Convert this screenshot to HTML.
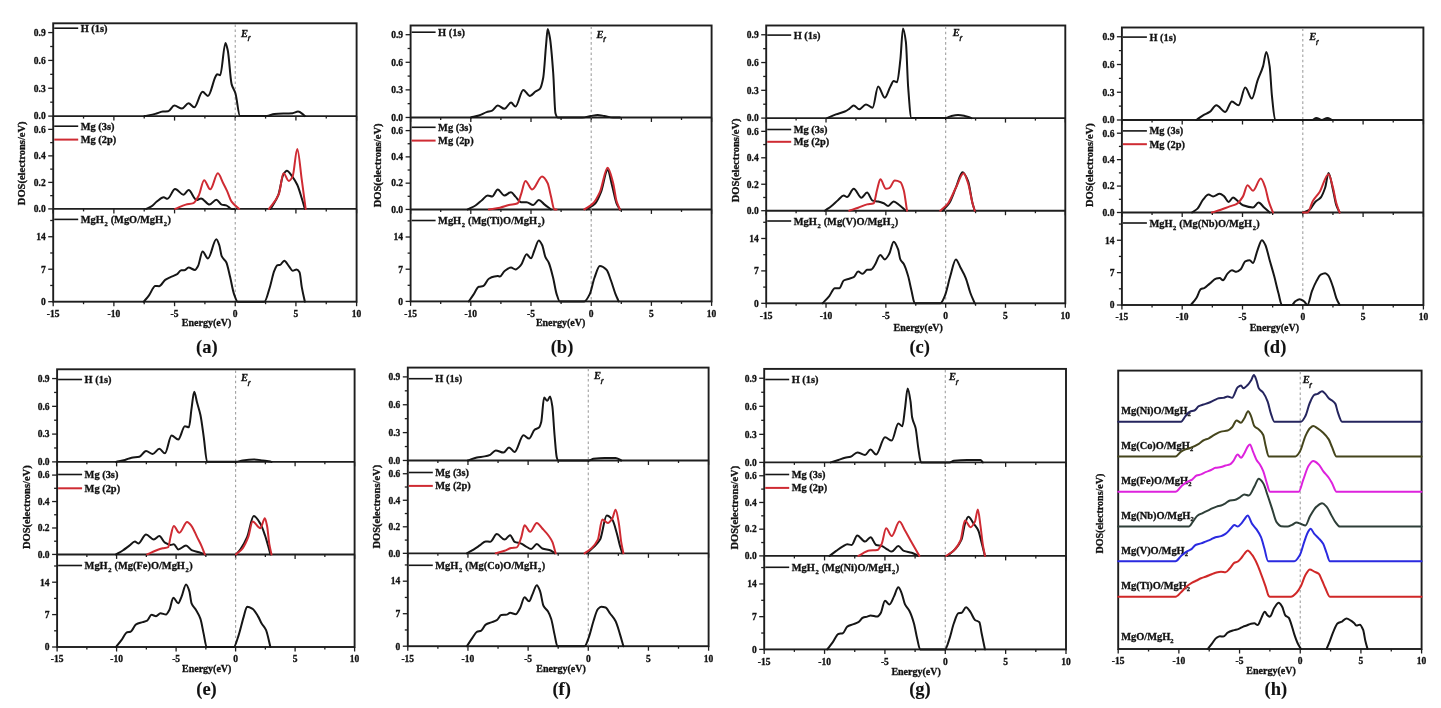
<!DOCTYPE html>
<html><head><meta charset="utf-8"><style>
html,body{margin:0;padding:0;background:#fff;}
body{width:1441px;height:708px;overflow:hidden;}
svg{display:block;font-family:"Liberation Serif", serif;will-change:transform;}
</style></head><body>
<svg width="1441" height="708" viewBox="0 0 1441 708">
<rect width="100%" height="100%" fill="#fff"/>
<g fill="#111" stroke="#111" stroke-width="0.3">
<rect x="53.2" y="23.3" width="303.4" height="278.4" fill="none" stroke="#1e1e1e" stroke-width="1.9"/>
<line x1="53.2" y1="116.1" x2="356.6" y2="116.1" stroke="#1e1e1e" stroke-width="1.9"/>
<line x1="53.2" y1="208.9" x2="356.6" y2="208.9" stroke="#1e1e1e" stroke-width="1.9"/>
<line x1="53.2" y1="116.1" x2="53.2" y2="120.6" stroke="#1e1e1e" stroke-width="1.3"/>
<line x1="83.54" y1="116.1" x2="83.54" y2="118.6" stroke="#1e1e1e" stroke-width="1.3"/>
<line x1="113.88" y1="116.1" x2="113.88" y2="120.6" stroke="#1e1e1e" stroke-width="1.3"/>
<line x1="144.22" y1="116.1" x2="144.22" y2="118.6" stroke="#1e1e1e" stroke-width="1.3"/>
<line x1="174.56" y1="116.1" x2="174.56" y2="120.6" stroke="#1e1e1e" stroke-width="1.3"/>
<line x1="204.9" y1="116.1" x2="204.9" y2="118.6" stroke="#1e1e1e" stroke-width="1.3"/>
<line x1="235.24" y1="116.1" x2="235.24" y2="120.6" stroke="#1e1e1e" stroke-width="1.3"/>
<line x1="265.58" y1="116.1" x2="265.58" y2="118.6" stroke="#1e1e1e" stroke-width="1.3"/>
<line x1="295.92" y1="116.1" x2="295.92" y2="120.6" stroke="#1e1e1e" stroke-width="1.3"/>
<line x1="326.26" y1="116.1" x2="326.26" y2="118.6" stroke="#1e1e1e" stroke-width="1.3"/>
<line x1="356.6" y1="116.1" x2="356.6" y2="120.6" stroke="#1e1e1e" stroke-width="1.3"/>
<line x1="53.2" y1="208.9" x2="53.2" y2="213.4" stroke="#1e1e1e" stroke-width="1.3"/>
<line x1="83.54" y1="208.9" x2="83.54" y2="211.4" stroke="#1e1e1e" stroke-width="1.3"/>
<line x1="113.88" y1="208.9" x2="113.88" y2="213.4" stroke="#1e1e1e" stroke-width="1.3"/>
<line x1="144.22" y1="208.9" x2="144.22" y2="211.4" stroke="#1e1e1e" stroke-width="1.3"/>
<line x1="174.56" y1="208.9" x2="174.56" y2="213.4" stroke="#1e1e1e" stroke-width="1.3"/>
<line x1="204.9" y1="208.9" x2="204.9" y2="211.4" stroke="#1e1e1e" stroke-width="1.3"/>
<line x1="235.24" y1="208.9" x2="235.24" y2="213.4" stroke="#1e1e1e" stroke-width="1.3"/>
<line x1="265.58" y1="208.9" x2="265.58" y2="211.4" stroke="#1e1e1e" stroke-width="1.3"/>
<line x1="295.92" y1="208.9" x2="295.92" y2="213.4" stroke="#1e1e1e" stroke-width="1.3"/>
<line x1="326.26" y1="208.9" x2="326.26" y2="211.4" stroke="#1e1e1e" stroke-width="1.3"/>
<line x1="356.6" y1="208.9" x2="356.6" y2="213.4" stroke="#1e1e1e" stroke-width="1.3"/>
<line x1="53.2" y1="301.7" x2="53.2" y2="306.2" stroke="#1e1e1e" stroke-width="1.3"/>
<line x1="83.54" y1="301.7" x2="83.54" y2="304.2" stroke="#1e1e1e" stroke-width="1.3"/>
<line x1="113.88" y1="301.7" x2="113.88" y2="306.2" stroke="#1e1e1e" stroke-width="1.3"/>
<line x1="144.22" y1="301.7" x2="144.22" y2="304.2" stroke="#1e1e1e" stroke-width="1.3"/>
<line x1="174.56" y1="301.7" x2="174.56" y2="306.2" stroke="#1e1e1e" stroke-width="1.3"/>
<line x1="204.9" y1="301.7" x2="204.9" y2="304.2" stroke="#1e1e1e" stroke-width="1.3"/>
<line x1="235.24" y1="301.7" x2="235.24" y2="306.2" stroke="#1e1e1e" stroke-width="1.3"/>
<line x1="265.58" y1="301.7" x2="265.58" y2="304.2" stroke="#1e1e1e" stroke-width="1.3"/>
<line x1="295.92" y1="301.7" x2="295.92" y2="306.2" stroke="#1e1e1e" stroke-width="1.3"/>
<line x1="326.26" y1="301.7" x2="326.26" y2="304.2" stroke="#1e1e1e" stroke-width="1.3"/>
<line x1="356.6" y1="301.7" x2="356.6" y2="306.2" stroke="#1e1e1e" stroke-width="1.3"/>
<text x="53.2" y="317.1" font-size="9.5" text-anchor="middle" font-weight="bold" font-style="normal">-15</text>
<text x="113.88" y="317.1" font-size="9.5" text-anchor="middle" font-weight="bold" font-style="normal">-10</text>
<text x="174.56" y="317.1" font-size="9.5" text-anchor="middle" font-weight="bold" font-style="normal">-5</text>
<text x="235.24" y="317.1" font-size="9.5" text-anchor="middle" font-weight="bold" font-style="normal">0</text>
<text x="295.92" y="317.1" font-size="9.5" text-anchor="middle" font-weight="bold" font-style="normal">5</text>
<text x="356.6" y="317.1" font-size="9.5" text-anchor="middle" font-weight="bold" font-style="normal">10</text>
<line x1="48.2" y1="116.1" x2="53.2" y2="116.1" stroke="#1e1e1e" stroke-width="1.3"/>
<text x="45.7" y="119.4" font-size="9.5" text-anchor="end" font-weight="bold" font-style="normal">0.0</text>
<line x1="48.2" y1="88.26" x2="53.2" y2="88.26" stroke="#1e1e1e" stroke-width="1.3"/>
<text x="45.7" y="91.56" font-size="9.5" text-anchor="end" font-weight="bold" font-style="normal">0.3</text>
<line x1="48.2" y1="60.42" x2="53.2" y2="60.42" stroke="#1e1e1e" stroke-width="1.3"/>
<text x="45.7" y="63.72" font-size="9.5" text-anchor="end" font-weight="bold" font-style="normal">0.6</text>
<line x1="48.2" y1="32.58" x2="53.2" y2="32.58" stroke="#1e1e1e" stroke-width="1.3"/>
<text x="45.7" y="35.88" font-size="9.5" text-anchor="end" font-weight="bold" font-style="normal">0.9</text>
<line x1="50.2" y1="102.18" x2="53.2" y2="102.18" stroke="#1e1e1e" stroke-width="1.3"/>
<line x1="50.2" y1="74.34" x2="53.2" y2="74.34" stroke="#1e1e1e" stroke-width="1.3"/>
<line x1="50.2" y1="46.5" x2="53.2" y2="46.5" stroke="#1e1e1e" stroke-width="1.3"/>
<line x1="48.2" y1="208.9" x2="53.2" y2="208.9" stroke="#1e1e1e" stroke-width="1.3"/>
<text x="45.7" y="212.2" font-size="9.5" text-anchor="end" font-weight="bold" font-style="normal">0.0</text>
<line x1="48.2" y1="182.39" x2="53.2" y2="182.39" stroke="#1e1e1e" stroke-width="1.3"/>
<text x="45.7" y="185.69" font-size="9.5" text-anchor="end" font-weight="bold" font-style="normal">0.2</text>
<line x1="48.2" y1="155.87" x2="53.2" y2="155.87" stroke="#1e1e1e" stroke-width="1.3"/>
<text x="45.7" y="159.17" font-size="9.5" text-anchor="end" font-weight="bold" font-style="normal">0.4</text>
<line x1="48.2" y1="129.36" x2="53.2" y2="129.36" stroke="#1e1e1e" stroke-width="1.3"/>
<text x="45.7" y="132.66" font-size="9.5" text-anchor="end" font-weight="bold" font-style="normal">0.6</text>
<line x1="50.2" y1="195.64" x2="53.2" y2="195.64" stroke="#1e1e1e" stroke-width="1.3"/>
<line x1="50.2" y1="169.13" x2="53.2" y2="169.13" stroke="#1e1e1e" stroke-width="1.3"/>
<line x1="50.2" y1="142.61" x2="53.2" y2="142.61" stroke="#1e1e1e" stroke-width="1.3"/>
<line x1="48.2" y1="301.7" x2="53.2" y2="301.7" stroke="#1e1e1e" stroke-width="1.3"/>
<text x="45.7" y="305" font-size="9.5" text-anchor="end" font-weight="bold" font-style="normal">0</text>
<line x1="48.2" y1="269.22" x2="53.2" y2="269.22" stroke="#1e1e1e" stroke-width="1.3"/>
<text x="45.7" y="272.52" font-size="9.5" text-anchor="end" font-weight="bold" font-style="normal">7</text>
<line x1="48.2" y1="236.74" x2="53.2" y2="236.74" stroke="#1e1e1e" stroke-width="1.3"/>
<text x="45.7" y="240.04" font-size="9.5" text-anchor="end" font-weight="bold" font-style="normal">14</text>
<line x1="50.2" y1="285.46" x2="53.2" y2="285.46" stroke="#1e1e1e" stroke-width="1.3"/>
<line x1="50.2" y1="252.98" x2="53.2" y2="252.98" stroke="#1e1e1e" stroke-width="1.3"/>
<line x1="50.2" y1="220.5" x2="53.2" y2="220.5" stroke="#1e1e1e" stroke-width="1.3"/>
<line x1="235.24" y1="24.3" x2="235.24" y2="300.7" stroke="#a0a0a0" stroke-width="1.1" stroke-dasharray="2.6,2.6"/>
<text x="240.94" y="36.8" font-size="10.5" font-weight="bold" font-style="italic">E<tspan font-size="7" dy="3.6" dx="-0.3">f</tspan></text>
<line x1="54.2" y1="28.2" x2="78.2" y2="28.2" stroke="#161616" stroke-width="1.6"/>
<text x="80.7" y="31.7" font-size="10.4" text-anchor="start" font-weight="bold" font-style="normal">H (1s)</text>
<line x1="54.2" y1="126.2" x2="78.2" y2="126.2" stroke="#161616" stroke-width="1.6"/>
<text x="80.7" y="129.7" font-size="10.4" text-anchor="start" font-weight="bold" font-style="normal">Mg (3s)</text>
<line x1="54.2" y1="139.6" x2="78.2" y2="139.6" stroke="#cf2b33" stroke-width="2.0"/>
<text x="80.7" y="143.1" font-size="10.4" text-anchor="start" font-weight="bold" font-style="normal">Mg (2p)</text>
<line x1="54.2" y1="219.4" x2="78.2" y2="219.4" stroke="#161616" stroke-width="1.6"/>
<text x="80.7" y="222.9" font-size="10.4" text-anchor="start" font-weight="bold" font-style="normal">MgH<tspan font-size="6.5" dy="3.2" dx="0.6">2</tspan><tspan dy="-3.2" dx="0.4"> (MgO/MgH</tspan><tspan font-size="6.5" dy="3.2" dx="0.6">2</tspan><tspan dy="-3.2" dx="0.4">)</tspan></text>
<text x="25.05" y="163.3" font-size="10.5" text-anchor="middle" font-weight="bold" font-style="normal" transform="rotate(-90 25.05 163.3)">DOS(electrons/eV)</text>
<text x="206.5" y="326.1" font-size="10" text-anchor="middle" font-weight="bold" font-style="normal">Energy(eV)</text>
<text x="206.8" y="352.7" font-size="18.5" text-anchor="middle" font-weight="bold" font-style="normal" stroke-width="0.1">(a)</text>
<rect x="410.6" y="25.5" width="301" height="275.9" fill="none" stroke="#1e1e1e" stroke-width="1.9"/>
<line x1="410.6" y1="117.47" x2="711.6" y2="117.47" stroke="#1e1e1e" stroke-width="1.9"/>
<line x1="410.6" y1="209.43" x2="711.6" y2="209.43" stroke="#1e1e1e" stroke-width="1.9"/>
<line x1="410.6" y1="117.47" x2="410.6" y2="121.97" stroke="#1e1e1e" stroke-width="1.3"/>
<line x1="440.7" y1="117.47" x2="440.7" y2="119.97" stroke="#1e1e1e" stroke-width="1.3"/>
<line x1="470.8" y1="117.47" x2="470.8" y2="121.97" stroke="#1e1e1e" stroke-width="1.3"/>
<line x1="500.9" y1="117.47" x2="500.9" y2="119.97" stroke="#1e1e1e" stroke-width="1.3"/>
<line x1="531" y1="117.47" x2="531" y2="121.97" stroke="#1e1e1e" stroke-width="1.3"/>
<line x1="561.1" y1="117.47" x2="561.1" y2="119.97" stroke="#1e1e1e" stroke-width="1.3"/>
<line x1="591.2" y1="117.47" x2="591.2" y2="121.97" stroke="#1e1e1e" stroke-width="1.3"/>
<line x1="621.3" y1="117.47" x2="621.3" y2="119.97" stroke="#1e1e1e" stroke-width="1.3"/>
<line x1="651.4" y1="117.47" x2="651.4" y2="121.97" stroke="#1e1e1e" stroke-width="1.3"/>
<line x1="681.5" y1="117.47" x2="681.5" y2="119.97" stroke="#1e1e1e" stroke-width="1.3"/>
<line x1="711.6" y1="117.47" x2="711.6" y2="121.97" stroke="#1e1e1e" stroke-width="1.3"/>
<line x1="410.6" y1="209.43" x2="410.6" y2="213.93" stroke="#1e1e1e" stroke-width="1.3"/>
<line x1="440.7" y1="209.43" x2="440.7" y2="211.93" stroke="#1e1e1e" stroke-width="1.3"/>
<line x1="470.8" y1="209.43" x2="470.8" y2="213.93" stroke="#1e1e1e" stroke-width="1.3"/>
<line x1="500.9" y1="209.43" x2="500.9" y2="211.93" stroke="#1e1e1e" stroke-width="1.3"/>
<line x1="531" y1="209.43" x2="531" y2="213.93" stroke="#1e1e1e" stroke-width="1.3"/>
<line x1="561.1" y1="209.43" x2="561.1" y2="211.93" stroke="#1e1e1e" stroke-width="1.3"/>
<line x1="591.2" y1="209.43" x2="591.2" y2="213.93" stroke="#1e1e1e" stroke-width="1.3"/>
<line x1="621.3" y1="209.43" x2="621.3" y2="211.93" stroke="#1e1e1e" stroke-width="1.3"/>
<line x1="651.4" y1="209.43" x2="651.4" y2="213.93" stroke="#1e1e1e" stroke-width="1.3"/>
<line x1="681.5" y1="209.43" x2="681.5" y2="211.93" stroke="#1e1e1e" stroke-width="1.3"/>
<line x1="711.6" y1="209.43" x2="711.6" y2="213.93" stroke="#1e1e1e" stroke-width="1.3"/>
<line x1="410.6" y1="301.4" x2="410.6" y2="305.9" stroke="#1e1e1e" stroke-width="1.3"/>
<line x1="440.7" y1="301.4" x2="440.7" y2="303.9" stroke="#1e1e1e" stroke-width="1.3"/>
<line x1="470.8" y1="301.4" x2="470.8" y2="305.9" stroke="#1e1e1e" stroke-width="1.3"/>
<line x1="500.9" y1="301.4" x2="500.9" y2="303.9" stroke="#1e1e1e" stroke-width="1.3"/>
<line x1="531" y1="301.4" x2="531" y2="305.9" stroke="#1e1e1e" stroke-width="1.3"/>
<line x1="561.1" y1="301.4" x2="561.1" y2="303.9" stroke="#1e1e1e" stroke-width="1.3"/>
<line x1="591.2" y1="301.4" x2="591.2" y2="305.9" stroke="#1e1e1e" stroke-width="1.3"/>
<line x1="621.3" y1="301.4" x2="621.3" y2="303.9" stroke="#1e1e1e" stroke-width="1.3"/>
<line x1="651.4" y1="301.4" x2="651.4" y2="305.9" stroke="#1e1e1e" stroke-width="1.3"/>
<line x1="681.5" y1="301.4" x2="681.5" y2="303.9" stroke="#1e1e1e" stroke-width="1.3"/>
<line x1="711.6" y1="301.4" x2="711.6" y2="305.9" stroke="#1e1e1e" stroke-width="1.3"/>
<text x="410.6" y="316.8" font-size="9.5" text-anchor="middle" font-weight="bold" font-style="normal">-15</text>
<text x="470.8" y="316.8" font-size="9.5" text-anchor="middle" font-weight="bold" font-style="normal">-10</text>
<text x="531" y="316.8" font-size="9.5" text-anchor="middle" font-weight="bold" font-style="normal">-5</text>
<text x="591.2" y="316.8" font-size="9.5" text-anchor="middle" font-weight="bold" font-style="normal">0</text>
<text x="651.4" y="316.8" font-size="9.5" text-anchor="middle" font-weight="bold" font-style="normal">5</text>
<text x="711.6" y="316.8" font-size="9.5" text-anchor="middle" font-weight="bold" font-style="normal">10</text>
<line x1="405.6" y1="117.47" x2="410.6" y2="117.47" stroke="#1e1e1e" stroke-width="1.3"/>
<text x="403.1" y="120.77" font-size="9.5" text-anchor="end" font-weight="bold" font-style="normal">0.0</text>
<line x1="405.6" y1="89.88" x2="410.6" y2="89.88" stroke="#1e1e1e" stroke-width="1.3"/>
<text x="403.1" y="93.18" font-size="9.5" text-anchor="end" font-weight="bold" font-style="normal">0.3</text>
<line x1="405.6" y1="62.29" x2="410.6" y2="62.29" stroke="#1e1e1e" stroke-width="1.3"/>
<text x="403.1" y="65.59" font-size="9.5" text-anchor="end" font-weight="bold" font-style="normal">0.6</text>
<line x1="405.6" y1="34.7" x2="410.6" y2="34.7" stroke="#1e1e1e" stroke-width="1.3"/>
<text x="403.1" y="38" font-size="9.5" text-anchor="end" font-weight="bold" font-style="normal">0.9</text>
<line x1="407.6" y1="103.67" x2="410.6" y2="103.67" stroke="#1e1e1e" stroke-width="1.3"/>
<line x1="407.6" y1="76.08" x2="410.6" y2="76.08" stroke="#1e1e1e" stroke-width="1.3"/>
<line x1="407.6" y1="48.49" x2="410.6" y2="48.49" stroke="#1e1e1e" stroke-width="1.3"/>
<line x1="405.6" y1="209.43" x2="410.6" y2="209.43" stroke="#1e1e1e" stroke-width="1.3"/>
<text x="403.1" y="212.73" font-size="9.5" text-anchor="end" font-weight="bold" font-style="normal">0.0</text>
<line x1="405.6" y1="183.16" x2="410.6" y2="183.16" stroke="#1e1e1e" stroke-width="1.3"/>
<text x="403.1" y="186.46" font-size="9.5" text-anchor="end" font-weight="bold" font-style="normal">0.2</text>
<line x1="405.6" y1="156.88" x2="410.6" y2="156.88" stroke="#1e1e1e" stroke-width="1.3"/>
<text x="403.1" y="160.18" font-size="9.5" text-anchor="end" font-weight="bold" font-style="normal">0.4</text>
<line x1="405.6" y1="130.6" x2="410.6" y2="130.6" stroke="#1e1e1e" stroke-width="1.3"/>
<text x="403.1" y="133.9" font-size="9.5" text-anchor="end" font-weight="bold" font-style="normal">0.6</text>
<line x1="407.6" y1="196.3" x2="410.6" y2="196.3" stroke="#1e1e1e" stroke-width="1.3"/>
<line x1="407.6" y1="170.02" x2="410.6" y2="170.02" stroke="#1e1e1e" stroke-width="1.3"/>
<line x1="407.6" y1="143.74" x2="410.6" y2="143.74" stroke="#1e1e1e" stroke-width="1.3"/>
<line x1="405.6" y1="301.4" x2="410.6" y2="301.4" stroke="#1e1e1e" stroke-width="1.3"/>
<text x="403.1" y="304.7" font-size="9.5" text-anchor="end" font-weight="bold" font-style="normal">0</text>
<line x1="405.6" y1="269.21" x2="410.6" y2="269.21" stroke="#1e1e1e" stroke-width="1.3"/>
<text x="403.1" y="272.51" font-size="9.5" text-anchor="end" font-weight="bold" font-style="normal">7</text>
<line x1="405.6" y1="237.02" x2="410.6" y2="237.02" stroke="#1e1e1e" stroke-width="1.3"/>
<text x="403.1" y="240.32" font-size="9.5" text-anchor="end" font-weight="bold" font-style="normal">14</text>
<line x1="407.6" y1="285.31" x2="410.6" y2="285.31" stroke="#1e1e1e" stroke-width="1.3"/>
<line x1="407.6" y1="253.12" x2="410.6" y2="253.12" stroke="#1e1e1e" stroke-width="1.3"/>
<line x1="407.6" y1="220.93" x2="410.6" y2="220.93" stroke="#1e1e1e" stroke-width="1.3"/>
<line x1="591.2" y1="26.5" x2="591.2" y2="300.4" stroke="#a0a0a0" stroke-width="1.1" stroke-dasharray="2.6,2.6"/>
<text x="596.5" y="37.8" font-size="10.5" font-weight="bold" font-style="italic">E<tspan font-size="7" dy="3.6" dx="-0.3">f</tspan></text>
<line x1="411.6" y1="32.2" x2="435.6" y2="32.2" stroke="#161616" stroke-width="1.6"/>
<text x="438.1" y="35.7" font-size="10.4" text-anchor="start" font-weight="bold" font-style="normal">H (1s)</text>
<line x1="411.6" y1="127.3" x2="435.6" y2="127.3" stroke="#161616" stroke-width="1.6"/>
<text x="438.1" y="130.8" font-size="10.4" text-anchor="start" font-weight="bold" font-style="normal">Mg (3s)</text>
<line x1="411.6" y1="140.6" x2="435.6" y2="140.6" stroke="#cf2b33" stroke-width="2.0"/>
<text x="438.1" y="144.1" font-size="10.4" text-anchor="start" font-weight="bold" font-style="normal">Mg (2p)</text>
<line x1="411.6" y1="220.5" x2="435.6" y2="220.5" stroke="#161616" stroke-width="1.6"/>
<text x="438.1" y="224" font-size="10.4" text-anchor="start" font-weight="bold" font-style="normal">MgH<tspan font-size="6.5" dy="3.2" dx="0.6">2</tspan><tspan dy="-3.2" dx="0.4"> (Mg(Ti)O/MgH</tspan><tspan font-size="6.5" dy="3.2" dx="0.6">2</tspan><tspan dy="-3.2" dx="0.4">)</tspan></text>
<text x="380.7" y="165.4" font-size="10.5" text-anchor="middle" font-weight="bold" font-style="normal" transform="rotate(-90 380.7 165.4)">DOS(electrons/eV)</text>
<text x="560.6" y="326" font-size="10" text-anchor="middle" font-weight="bold" font-style="normal">Energy(eV)</text>
<text x="562" y="352.6" font-size="18.5" text-anchor="middle" font-weight="bold" font-style="normal" stroke-width="0.1">(b)</text>
<rect x="766.2" y="25.5" width="299.1" height="277.8" fill="none" stroke="#1e1e1e" stroke-width="1.9"/>
<line x1="766.2" y1="118.1" x2="1065.3" y2="118.1" stroke="#1e1e1e" stroke-width="1.9"/>
<line x1="766.2" y1="210.7" x2="1065.3" y2="210.7" stroke="#1e1e1e" stroke-width="1.9"/>
<line x1="766.2" y1="118.1" x2="766.2" y2="122.6" stroke="#1e1e1e" stroke-width="1.3"/>
<line x1="796.11" y1="118.1" x2="796.11" y2="120.6" stroke="#1e1e1e" stroke-width="1.3"/>
<line x1="826.02" y1="118.1" x2="826.02" y2="122.6" stroke="#1e1e1e" stroke-width="1.3"/>
<line x1="855.93" y1="118.1" x2="855.93" y2="120.6" stroke="#1e1e1e" stroke-width="1.3"/>
<line x1="885.84" y1="118.1" x2="885.84" y2="122.6" stroke="#1e1e1e" stroke-width="1.3"/>
<line x1="915.75" y1="118.1" x2="915.75" y2="120.6" stroke="#1e1e1e" stroke-width="1.3"/>
<line x1="945.66" y1="118.1" x2="945.66" y2="122.6" stroke="#1e1e1e" stroke-width="1.3"/>
<line x1="975.57" y1="118.1" x2="975.57" y2="120.6" stroke="#1e1e1e" stroke-width="1.3"/>
<line x1="1005.48" y1="118.1" x2="1005.48" y2="122.6" stroke="#1e1e1e" stroke-width="1.3"/>
<line x1="1035.39" y1="118.1" x2="1035.39" y2="120.6" stroke="#1e1e1e" stroke-width="1.3"/>
<line x1="1065.3" y1="118.1" x2="1065.3" y2="122.6" stroke="#1e1e1e" stroke-width="1.3"/>
<line x1="766.2" y1="210.7" x2="766.2" y2="215.2" stroke="#1e1e1e" stroke-width="1.3"/>
<line x1="796.11" y1="210.7" x2="796.11" y2="213.2" stroke="#1e1e1e" stroke-width="1.3"/>
<line x1="826.02" y1="210.7" x2="826.02" y2="215.2" stroke="#1e1e1e" stroke-width="1.3"/>
<line x1="855.93" y1="210.7" x2="855.93" y2="213.2" stroke="#1e1e1e" stroke-width="1.3"/>
<line x1="885.84" y1="210.7" x2="885.84" y2="215.2" stroke="#1e1e1e" stroke-width="1.3"/>
<line x1="915.75" y1="210.7" x2="915.75" y2="213.2" stroke="#1e1e1e" stroke-width="1.3"/>
<line x1="945.66" y1="210.7" x2="945.66" y2="215.2" stroke="#1e1e1e" stroke-width="1.3"/>
<line x1="975.57" y1="210.7" x2="975.57" y2="213.2" stroke="#1e1e1e" stroke-width="1.3"/>
<line x1="1005.48" y1="210.7" x2="1005.48" y2="215.2" stroke="#1e1e1e" stroke-width="1.3"/>
<line x1="1035.39" y1="210.7" x2="1035.39" y2="213.2" stroke="#1e1e1e" stroke-width="1.3"/>
<line x1="1065.3" y1="210.7" x2="1065.3" y2="215.2" stroke="#1e1e1e" stroke-width="1.3"/>
<line x1="766.2" y1="303.3" x2="766.2" y2="307.8" stroke="#1e1e1e" stroke-width="1.3"/>
<line x1="796.11" y1="303.3" x2="796.11" y2="305.8" stroke="#1e1e1e" stroke-width="1.3"/>
<line x1="826.02" y1="303.3" x2="826.02" y2="307.8" stroke="#1e1e1e" stroke-width="1.3"/>
<line x1="855.93" y1="303.3" x2="855.93" y2="305.8" stroke="#1e1e1e" stroke-width="1.3"/>
<line x1="885.84" y1="303.3" x2="885.84" y2="307.8" stroke="#1e1e1e" stroke-width="1.3"/>
<line x1="915.75" y1="303.3" x2="915.75" y2="305.8" stroke="#1e1e1e" stroke-width="1.3"/>
<line x1="945.66" y1="303.3" x2="945.66" y2="307.8" stroke="#1e1e1e" stroke-width="1.3"/>
<line x1="975.57" y1="303.3" x2="975.57" y2="305.8" stroke="#1e1e1e" stroke-width="1.3"/>
<line x1="1005.48" y1="303.3" x2="1005.48" y2="307.8" stroke="#1e1e1e" stroke-width="1.3"/>
<line x1="1035.39" y1="303.3" x2="1035.39" y2="305.8" stroke="#1e1e1e" stroke-width="1.3"/>
<line x1="1065.3" y1="303.3" x2="1065.3" y2="307.8" stroke="#1e1e1e" stroke-width="1.3"/>
<text x="766.2" y="318.7" font-size="9.5" text-anchor="middle" font-weight="bold" font-style="normal">-15</text>
<text x="826.02" y="318.7" font-size="9.5" text-anchor="middle" font-weight="bold" font-style="normal">-10</text>
<text x="885.84" y="318.7" font-size="9.5" text-anchor="middle" font-weight="bold" font-style="normal">-5</text>
<text x="945.66" y="318.7" font-size="9.5" text-anchor="middle" font-weight="bold" font-style="normal">0</text>
<text x="1005.48" y="318.7" font-size="9.5" text-anchor="middle" font-weight="bold" font-style="normal">5</text>
<text x="1065.3" y="318.7" font-size="9.5" text-anchor="middle" font-weight="bold" font-style="normal">10</text>
<line x1="761.2" y1="118.1" x2="766.2" y2="118.1" stroke="#1e1e1e" stroke-width="1.3"/>
<text x="758.7" y="121.4" font-size="9.5" text-anchor="end" font-weight="bold" font-style="normal">0.0</text>
<line x1="761.2" y1="90.32" x2="766.2" y2="90.32" stroke="#1e1e1e" stroke-width="1.3"/>
<text x="758.7" y="93.62" font-size="9.5" text-anchor="end" font-weight="bold" font-style="normal">0.3</text>
<line x1="761.2" y1="62.54" x2="766.2" y2="62.54" stroke="#1e1e1e" stroke-width="1.3"/>
<text x="758.7" y="65.84" font-size="9.5" text-anchor="end" font-weight="bold" font-style="normal">0.6</text>
<line x1="761.2" y1="34.76" x2="766.2" y2="34.76" stroke="#1e1e1e" stroke-width="1.3"/>
<text x="758.7" y="38.06" font-size="9.5" text-anchor="end" font-weight="bold" font-style="normal">0.9</text>
<line x1="763.2" y1="104.21" x2="766.2" y2="104.21" stroke="#1e1e1e" stroke-width="1.3"/>
<line x1="763.2" y1="76.43" x2="766.2" y2="76.43" stroke="#1e1e1e" stroke-width="1.3"/>
<line x1="763.2" y1="48.65" x2="766.2" y2="48.65" stroke="#1e1e1e" stroke-width="1.3"/>
<line x1="761.2" y1="210.7" x2="766.2" y2="210.7" stroke="#1e1e1e" stroke-width="1.3"/>
<text x="758.7" y="214" font-size="9.5" text-anchor="end" font-weight="bold" font-style="normal">0.0</text>
<line x1="761.2" y1="184.24" x2="766.2" y2="184.24" stroke="#1e1e1e" stroke-width="1.3"/>
<text x="758.7" y="187.54" font-size="9.5" text-anchor="end" font-weight="bold" font-style="normal">0.2</text>
<line x1="761.2" y1="157.79" x2="766.2" y2="157.79" stroke="#1e1e1e" stroke-width="1.3"/>
<text x="758.7" y="161.09" font-size="9.5" text-anchor="end" font-weight="bold" font-style="normal">0.4</text>
<line x1="761.2" y1="131.33" x2="766.2" y2="131.33" stroke="#1e1e1e" stroke-width="1.3"/>
<text x="758.7" y="134.63" font-size="9.5" text-anchor="end" font-weight="bold" font-style="normal">0.6</text>
<line x1="763.2" y1="197.47" x2="766.2" y2="197.47" stroke="#1e1e1e" stroke-width="1.3"/>
<line x1="763.2" y1="171.01" x2="766.2" y2="171.01" stroke="#1e1e1e" stroke-width="1.3"/>
<line x1="763.2" y1="144.56" x2="766.2" y2="144.56" stroke="#1e1e1e" stroke-width="1.3"/>
<line x1="761.2" y1="303.3" x2="766.2" y2="303.3" stroke="#1e1e1e" stroke-width="1.3"/>
<text x="758.7" y="306.6" font-size="9.5" text-anchor="end" font-weight="bold" font-style="normal">0</text>
<line x1="761.2" y1="270.89" x2="766.2" y2="270.89" stroke="#1e1e1e" stroke-width="1.3"/>
<text x="758.7" y="274.19" font-size="9.5" text-anchor="end" font-weight="bold" font-style="normal">7</text>
<line x1="761.2" y1="238.48" x2="766.2" y2="238.48" stroke="#1e1e1e" stroke-width="1.3"/>
<text x="758.7" y="241.78" font-size="9.5" text-anchor="end" font-weight="bold" font-style="normal">14</text>
<line x1="763.2" y1="287.1" x2="766.2" y2="287.1" stroke="#1e1e1e" stroke-width="1.3"/>
<line x1="763.2" y1="254.69" x2="766.2" y2="254.69" stroke="#1e1e1e" stroke-width="1.3"/>
<line x1="763.2" y1="222.28" x2="766.2" y2="222.28" stroke="#1e1e1e" stroke-width="1.3"/>
<line x1="945.66" y1="26.5" x2="945.66" y2="302.3" stroke="#a0a0a0" stroke-width="1.1" stroke-dasharray="2.6,2.6"/>
<text x="952.86" y="36.3" font-size="10.5" font-weight="bold" font-style="italic">E<tspan font-size="7" dy="3.6" dx="-0.3">f</tspan></text>
<line x1="767.2" y1="35.1" x2="791.2" y2="35.1" stroke="#161616" stroke-width="1.6"/>
<text x="793.7" y="38.6" font-size="10.4" text-anchor="start" font-weight="bold" font-style="normal">H (1s)</text>
<line x1="767.2" y1="129.5" x2="791.2" y2="129.5" stroke="#161616" stroke-width="1.6"/>
<text x="793.7" y="133" font-size="10.4" text-anchor="start" font-weight="bold" font-style="normal">Mg (3s)</text>
<line x1="767.2" y1="141.8" x2="791.2" y2="141.8" stroke="#cf2b33" stroke-width="2.0"/>
<text x="793.7" y="145.3" font-size="10.4" text-anchor="start" font-weight="bold" font-style="normal">Mg (2p)</text>
<line x1="767.2" y1="221" x2="791.2" y2="221" stroke="#161616" stroke-width="1.6"/>
<text x="793.7" y="224.5" font-size="10.4" text-anchor="start" font-weight="bold" font-style="normal">MgH<tspan font-size="6.5" dy="3.2" dx="0.6">2</tspan><tspan dy="-3.2" dx="0.4"> (Mg(V)O/MgH</tspan><tspan font-size="6.5" dy="3.2" dx="0.6">2</tspan><tspan dy="-3.2" dx="0.4">)</tspan></text>
<text x="738.8" y="160.3" font-size="10.5" text-anchor="middle" font-weight="bold" font-style="normal" transform="rotate(-90 738.8 160.3)">DOS(electrons/eV)</text>
<text x="918.2" y="330.7" font-size="10" text-anchor="middle" font-weight="bold" font-style="normal">Energy(eV)</text>
<text x="919.7" y="352.8" font-size="18.5" text-anchor="middle" font-weight="bold" font-style="normal" stroke-width="0.1">(c)</text>
<rect x="1121.9" y="27.5" width="301.5" height="277.5" fill="none" stroke="#1e1e1e" stroke-width="1.9"/>
<line x1="1121.9" y1="120" x2="1423.4" y2="120" stroke="#1e1e1e" stroke-width="1.9"/>
<line x1="1121.9" y1="212.5" x2="1423.4" y2="212.5" stroke="#1e1e1e" stroke-width="1.9"/>
<line x1="1121.9" y1="120" x2="1121.9" y2="124.5" stroke="#1e1e1e" stroke-width="1.3"/>
<line x1="1152.05" y1="120" x2="1152.05" y2="122.5" stroke="#1e1e1e" stroke-width="1.3"/>
<line x1="1182.2" y1="120" x2="1182.2" y2="124.5" stroke="#1e1e1e" stroke-width="1.3"/>
<line x1="1212.35" y1="120" x2="1212.35" y2="122.5" stroke="#1e1e1e" stroke-width="1.3"/>
<line x1="1242.5" y1="120" x2="1242.5" y2="124.5" stroke="#1e1e1e" stroke-width="1.3"/>
<line x1="1272.65" y1="120" x2="1272.65" y2="122.5" stroke="#1e1e1e" stroke-width="1.3"/>
<line x1="1302.8" y1="120" x2="1302.8" y2="124.5" stroke="#1e1e1e" stroke-width="1.3"/>
<line x1="1332.95" y1="120" x2="1332.95" y2="122.5" stroke="#1e1e1e" stroke-width="1.3"/>
<line x1="1363.1" y1="120" x2="1363.1" y2="124.5" stroke="#1e1e1e" stroke-width="1.3"/>
<line x1="1393.25" y1="120" x2="1393.25" y2="122.5" stroke="#1e1e1e" stroke-width="1.3"/>
<line x1="1423.4" y1="120" x2="1423.4" y2="124.5" stroke="#1e1e1e" stroke-width="1.3"/>
<line x1="1121.9" y1="212.5" x2="1121.9" y2="217" stroke="#1e1e1e" stroke-width="1.3"/>
<line x1="1152.05" y1="212.5" x2="1152.05" y2="215" stroke="#1e1e1e" stroke-width="1.3"/>
<line x1="1182.2" y1="212.5" x2="1182.2" y2="217" stroke="#1e1e1e" stroke-width="1.3"/>
<line x1="1212.35" y1="212.5" x2="1212.35" y2="215" stroke="#1e1e1e" stroke-width="1.3"/>
<line x1="1242.5" y1="212.5" x2="1242.5" y2="217" stroke="#1e1e1e" stroke-width="1.3"/>
<line x1="1272.65" y1="212.5" x2="1272.65" y2="215" stroke="#1e1e1e" stroke-width="1.3"/>
<line x1="1302.8" y1="212.5" x2="1302.8" y2="217" stroke="#1e1e1e" stroke-width="1.3"/>
<line x1="1332.95" y1="212.5" x2="1332.95" y2="215" stroke="#1e1e1e" stroke-width="1.3"/>
<line x1="1363.1" y1="212.5" x2="1363.1" y2="217" stroke="#1e1e1e" stroke-width="1.3"/>
<line x1="1393.25" y1="212.5" x2="1393.25" y2="215" stroke="#1e1e1e" stroke-width="1.3"/>
<line x1="1423.4" y1="212.5" x2="1423.4" y2="217" stroke="#1e1e1e" stroke-width="1.3"/>
<line x1="1121.9" y1="305" x2="1121.9" y2="309.5" stroke="#1e1e1e" stroke-width="1.3"/>
<line x1="1152.05" y1="305" x2="1152.05" y2="307.5" stroke="#1e1e1e" stroke-width="1.3"/>
<line x1="1182.2" y1="305" x2="1182.2" y2="309.5" stroke="#1e1e1e" stroke-width="1.3"/>
<line x1="1212.35" y1="305" x2="1212.35" y2="307.5" stroke="#1e1e1e" stroke-width="1.3"/>
<line x1="1242.5" y1="305" x2="1242.5" y2="309.5" stroke="#1e1e1e" stroke-width="1.3"/>
<line x1="1272.65" y1="305" x2="1272.65" y2="307.5" stroke="#1e1e1e" stroke-width="1.3"/>
<line x1="1302.8" y1="305" x2="1302.8" y2="309.5" stroke="#1e1e1e" stroke-width="1.3"/>
<line x1="1332.95" y1="305" x2="1332.95" y2="307.5" stroke="#1e1e1e" stroke-width="1.3"/>
<line x1="1363.1" y1="305" x2="1363.1" y2="309.5" stroke="#1e1e1e" stroke-width="1.3"/>
<line x1="1393.25" y1="305" x2="1393.25" y2="307.5" stroke="#1e1e1e" stroke-width="1.3"/>
<line x1="1423.4" y1="305" x2="1423.4" y2="309.5" stroke="#1e1e1e" stroke-width="1.3"/>
<text x="1121.9" y="320.4" font-size="9.5" text-anchor="middle" font-weight="bold" font-style="normal">-15</text>
<text x="1182.2" y="320.4" font-size="9.5" text-anchor="middle" font-weight="bold" font-style="normal">-10</text>
<text x="1242.5" y="320.4" font-size="9.5" text-anchor="middle" font-weight="bold" font-style="normal">-5</text>
<text x="1302.8" y="320.4" font-size="9.5" text-anchor="middle" font-weight="bold" font-style="normal">0</text>
<text x="1363.1" y="320.4" font-size="9.5" text-anchor="middle" font-weight="bold" font-style="normal">5</text>
<text x="1423.4" y="320.4" font-size="9.5" text-anchor="middle" font-weight="bold" font-style="normal">10</text>
<line x1="1116.9" y1="120" x2="1121.9" y2="120" stroke="#1e1e1e" stroke-width="1.3"/>
<text x="1114.4" y="123.3" font-size="9.5" text-anchor="end" font-weight="bold" font-style="normal">0.0</text>
<line x1="1116.9" y1="92.25" x2="1121.9" y2="92.25" stroke="#1e1e1e" stroke-width="1.3"/>
<text x="1114.4" y="95.55" font-size="9.5" text-anchor="end" font-weight="bold" font-style="normal">0.3</text>
<line x1="1116.9" y1="64.5" x2="1121.9" y2="64.5" stroke="#1e1e1e" stroke-width="1.3"/>
<text x="1114.4" y="67.8" font-size="9.5" text-anchor="end" font-weight="bold" font-style="normal">0.6</text>
<line x1="1116.9" y1="36.75" x2="1121.9" y2="36.75" stroke="#1e1e1e" stroke-width="1.3"/>
<text x="1114.4" y="40.05" font-size="9.5" text-anchor="end" font-weight="bold" font-style="normal">0.9</text>
<line x1="1118.9" y1="106.12" x2="1121.9" y2="106.12" stroke="#1e1e1e" stroke-width="1.3"/>
<line x1="1118.9" y1="78.38" x2="1121.9" y2="78.38" stroke="#1e1e1e" stroke-width="1.3"/>
<line x1="1118.9" y1="50.62" x2="1121.9" y2="50.62" stroke="#1e1e1e" stroke-width="1.3"/>
<line x1="1116.9" y1="212.5" x2="1121.9" y2="212.5" stroke="#1e1e1e" stroke-width="1.3"/>
<text x="1114.4" y="215.8" font-size="9.5" text-anchor="end" font-weight="bold" font-style="normal">0.0</text>
<line x1="1116.9" y1="186.07" x2="1121.9" y2="186.07" stroke="#1e1e1e" stroke-width="1.3"/>
<text x="1114.4" y="189.37" font-size="9.5" text-anchor="end" font-weight="bold" font-style="normal">0.2</text>
<line x1="1116.9" y1="159.64" x2="1121.9" y2="159.64" stroke="#1e1e1e" stroke-width="1.3"/>
<text x="1114.4" y="162.94" font-size="9.5" text-anchor="end" font-weight="bold" font-style="normal">0.4</text>
<line x1="1116.9" y1="133.21" x2="1121.9" y2="133.21" stroke="#1e1e1e" stroke-width="1.3"/>
<text x="1114.4" y="136.51" font-size="9.5" text-anchor="end" font-weight="bold" font-style="normal">0.6</text>
<line x1="1118.9" y1="199.29" x2="1121.9" y2="199.29" stroke="#1e1e1e" stroke-width="1.3"/>
<line x1="1118.9" y1="172.86" x2="1121.9" y2="172.86" stroke="#1e1e1e" stroke-width="1.3"/>
<line x1="1118.9" y1="146.43" x2="1121.9" y2="146.43" stroke="#1e1e1e" stroke-width="1.3"/>
<line x1="1116.9" y1="305" x2="1121.9" y2="305" stroke="#1e1e1e" stroke-width="1.3"/>
<text x="1114.4" y="308.3" font-size="9.5" text-anchor="end" font-weight="bold" font-style="normal">0</text>
<line x1="1116.9" y1="272.62" x2="1121.9" y2="272.62" stroke="#1e1e1e" stroke-width="1.3"/>
<text x="1114.4" y="275.93" font-size="9.5" text-anchor="end" font-weight="bold" font-style="normal">7</text>
<line x1="1116.9" y1="240.25" x2="1121.9" y2="240.25" stroke="#1e1e1e" stroke-width="1.3"/>
<text x="1114.4" y="243.55" font-size="9.5" text-anchor="end" font-weight="bold" font-style="normal">14</text>
<line x1="1118.9" y1="288.81" x2="1121.9" y2="288.81" stroke="#1e1e1e" stroke-width="1.3"/>
<line x1="1118.9" y1="256.44" x2="1121.9" y2="256.44" stroke="#1e1e1e" stroke-width="1.3"/>
<line x1="1118.9" y1="224.06" x2="1121.9" y2="224.06" stroke="#1e1e1e" stroke-width="1.3"/>
<line x1="1302.8" y1="28.5" x2="1302.8" y2="304" stroke="#a0a0a0" stroke-width="1.1" stroke-dasharray="2.6,2.6"/>
<text x="1309.2" y="40.4" font-size="10.5" font-weight="bold" font-style="italic">E<tspan font-size="7" dy="3.6" dx="-0.3">f</tspan></text>
<line x1="1122.9" y1="37.1" x2="1146.9" y2="37.1" stroke="#161616" stroke-width="1.6"/>
<text x="1149.4" y="40.6" font-size="10.4" text-anchor="start" font-weight="bold" font-style="normal">H (1s)</text>
<line x1="1122.9" y1="130.9" x2="1146.9" y2="130.9" stroke="#161616" stroke-width="1.6"/>
<text x="1149.4" y="134.4" font-size="10.4" text-anchor="start" font-weight="bold" font-style="normal">Mg (3s)</text>
<line x1="1122.9" y1="144.2" x2="1146.9" y2="144.2" stroke="#cf2b33" stroke-width="2.0"/>
<text x="1149.4" y="147.7" font-size="10.4" text-anchor="start" font-weight="bold" font-style="normal">Mg (2p)</text>
<line x1="1122.9" y1="223" x2="1146.9" y2="223" stroke="#161616" stroke-width="1.6"/>
<text x="1149.4" y="226.5" font-size="10.4" text-anchor="start" font-weight="bold" font-style="normal">MgH<tspan font-size="6.5" dy="3.2" dx="0.6">2</tspan><tspan dy="-3.2" dx="0.4"> (Mg(Nb)O/MgH</tspan><tspan font-size="6.5" dy="3.2" dx="0.6">2</tspan><tspan dy="-3.2" dx="0.4">)</tspan></text>
<text x="1092.6" y="165.2" font-size="10.5" text-anchor="middle" font-weight="bold" font-style="normal" transform="rotate(-90 1092.6 165.2)">DOS(electrons/eV)</text>
<text x="1274.4" y="331.2" font-size="10" text-anchor="middle" font-weight="bold" font-style="normal">Energy(eV)</text>
<text x="1275" y="352.6" font-size="18.5" text-anchor="middle" font-weight="bold" font-style="normal" stroke-width="0.1">(d)</text>
<rect x="57.1" y="369.3" width="297.5" height="277.7" fill="none" stroke="#1e1e1e" stroke-width="1.9"/>
<line x1="57.1" y1="461.87" x2="354.6" y2="461.87" stroke="#1e1e1e" stroke-width="1.9"/>
<line x1="57.1" y1="554.43" x2="354.6" y2="554.43" stroke="#1e1e1e" stroke-width="1.9"/>
<line x1="57.1" y1="461.87" x2="57.1" y2="466.37" stroke="#1e1e1e" stroke-width="1.3"/>
<line x1="86.85" y1="461.87" x2="86.85" y2="464.37" stroke="#1e1e1e" stroke-width="1.3"/>
<line x1="116.6" y1="461.87" x2="116.6" y2="466.37" stroke="#1e1e1e" stroke-width="1.3"/>
<line x1="146.35" y1="461.87" x2="146.35" y2="464.37" stroke="#1e1e1e" stroke-width="1.3"/>
<line x1="176.1" y1="461.87" x2="176.1" y2="466.37" stroke="#1e1e1e" stroke-width="1.3"/>
<line x1="205.85" y1="461.87" x2="205.85" y2="464.37" stroke="#1e1e1e" stroke-width="1.3"/>
<line x1="235.6" y1="461.87" x2="235.6" y2="466.37" stroke="#1e1e1e" stroke-width="1.3"/>
<line x1="265.35" y1="461.87" x2="265.35" y2="464.37" stroke="#1e1e1e" stroke-width="1.3"/>
<line x1="295.1" y1="461.87" x2="295.1" y2="466.37" stroke="#1e1e1e" stroke-width="1.3"/>
<line x1="324.85" y1="461.87" x2="324.85" y2="464.37" stroke="#1e1e1e" stroke-width="1.3"/>
<line x1="354.6" y1="461.87" x2="354.6" y2="466.37" stroke="#1e1e1e" stroke-width="1.3"/>
<line x1="57.1" y1="554.43" x2="57.1" y2="558.93" stroke="#1e1e1e" stroke-width="1.3"/>
<line x1="86.85" y1="554.43" x2="86.85" y2="556.93" stroke="#1e1e1e" stroke-width="1.3"/>
<line x1="116.6" y1="554.43" x2="116.6" y2="558.93" stroke="#1e1e1e" stroke-width="1.3"/>
<line x1="146.35" y1="554.43" x2="146.35" y2="556.93" stroke="#1e1e1e" stroke-width="1.3"/>
<line x1="176.1" y1="554.43" x2="176.1" y2="558.93" stroke="#1e1e1e" stroke-width="1.3"/>
<line x1="205.85" y1="554.43" x2="205.85" y2="556.93" stroke="#1e1e1e" stroke-width="1.3"/>
<line x1="235.6" y1="554.43" x2="235.6" y2="558.93" stroke="#1e1e1e" stroke-width="1.3"/>
<line x1="265.35" y1="554.43" x2="265.35" y2="556.93" stroke="#1e1e1e" stroke-width="1.3"/>
<line x1="295.1" y1="554.43" x2="295.1" y2="558.93" stroke="#1e1e1e" stroke-width="1.3"/>
<line x1="324.85" y1="554.43" x2="324.85" y2="556.93" stroke="#1e1e1e" stroke-width="1.3"/>
<line x1="354.6" y1="554.43" x2="354.6" y2="558.93" stroke="#1e1e1e" stroke-width="1.3"/>
<line x1="57.1" y1="647" x2="57.1" y2="651.5" stroke="#1e1e1e" stroke-width="1.3"/>
<line x1="86.85" y1="647" x2="86.85" y2="649.5" stroke="#1e1e1e" stroke-width="1.3"/>
<line x1="116.6" y1="647" x2="116.6" y2="651.5" stroke="#1e1e1e" stroke-width="1.3"/>
<line x1="146.35" y1="647" x2="146.35" y2="649.5" stroke="#1e1e1e" stroke-width="1.3"/>
<line x1="176.1" y1="647" x2="176.1" y2="651.5" stroke="#1e1e1e" stroke-width="1.3"/>
<line x1="205.85" y1="647" x2="205.85" y2="649.5" stroke="#1e1e1e" stroke-width="1.3"/>
<line x1="235.6" y1="647" x2="235.6" y2="651.5" stroke="#1e1e1e" stroke-width="1.3"/>
<line x1="265.35" y1="647" x2="265.35" y2="649.5" stroke="#1e1e1e" stroke-width="1.3"/>
<line x1="295.1" y1="647" x2="295.1" y2="651.5" stroke="#1e1e1e" stroke-width="1.3"/>
<line x1="324.85" y1="647" x2="324.85" y2="649.5" stroke="#1e1e1e" stroke-width="1.3"/>
<line x1="354.6" y1="647" x2="354.6" y2="651.5" stroke="#1e1e1e" stroke-width="1.3"/>
<text x="57.1" y="662.4" font-size="9.5" text-anchor="middle" font-weight="bold" font-style="normal">-15</text>
<text x="116.6" y="662.4" font-size="9.5" text-anchor="middle" font-weight="bold" font-style="normal">-10</text>
<text x="176.1" y="662.4" font-size="9.5" text-anchor="middle" font-weight="bold" font-style="normal">-5</text>
<text x="235.6" y="662.4" font-size="9.5" text-anchor="middle" font-weight="bold" font-style="normal">0</text>
<text x="295.1" y="662.4" font-size="9.5" text-anchor="middle" font-weight="bold" font-style="normal">5</text>
<text x="354.6" y="662.4" font-size="9.5" text-anchor="middle" font-weight="bold" font-style="normal">10</text>
<line x1="52.1" y1="461.87" x2="57.1" y2="461.87" stroke="#1e1e1e" stroke-width="1.3"/>
<text x="49.6" y="465.17" font-size="9.5" text-anchor="end" font-weight="bold" font-style="normal">0.0</text>
<line x1="52.1" y1="434.1" x2="57.1" y2="434.1" stroke="#1e1e1e" stroke-width="1.3"/>
<text x="49.6" y="437.4" font-size="9.5" text-anchor="end" font-weight="bold" font-style="normal">0.3</text>
<line x1="52.1" y1="406.33" x2="57.1" y2="406.33" stroke="#1e1e1e" stroke-width="1.3"/>
<text x="49.6" y="409.63" font-size="9.5" text-anchor="end" font-weight="bold" font-style="normal">0.6</text>
<line x1="52.1" y1="378.56" x2="57.1" y2="378.56" stroke="#1e1e1e" stroke-width="1.3"/>
<text x="49.6" y="381.86" font-size="9.5" text-anchor="end" font-weight="bold" font-style="normal">0.9</text>
<line x1="54.1" y1="447.98" x2="57.1" y2="447.98" stroke="#1e1e1e" stroke-width="1.3"/>
<line x1="54.1" y1="420.21" x2="57.1" y2="420.21" stroke="#1e1e1e" stroke-width="1.3"/>
<line x1="54.1" y1="392.44" x2="57.1" y2="392.44" stroke="#1e1e1e" stroke-width="1.3"/>
<line x1="52.1" y1="554.43" x2="57.1" y2="554.43" stroke="#1e1e1e" stroke-width="1.3"/>
<text x="49.6" y="557.73" font-size="9.5" text-anchor="end" font-weight="bold" font-style="normal">0.0</text>
<line x1="52.1" y1="527.99" x2="57.1" y2="527.99" stroke="#1e1e1e" stroke-width="1.3"/>
<text x="49.6" y="531.29" font-size="9.5" text-anchor="end" font-weight="bold" font-style="normal">0.2</text>
<line x1="52.1" y1="501.54" x2="57.1" y2="501.54" stroke="#1e1e1e" stroke-width="1.3"/>
<text x="49.6" y="504.84" font-size="9.5" text-anchor="end" font-weight="bold" font-style="normal">0.4</text>
<line x1="52.1" y1="475.09" x2="57.1" y2="475.09" stroke="#1e1e1e" stroke-width="1.3"/>
<text x="49.6" y="478.39" font-size="9.5" text-anchor="end" font-weight="bold" font-style="normal">0.6</text>
<line x1="54.1" y1="541.21" x2="57.1" y2="541.21" stroke="#1e1e1e" stroke-width="1.3"/>
<line x1="54.1" y1="514.76" x2="57.1" y2="514.76" stroke="#1e1e1e" stroke-width="1.3"/>
<line x1="54.1" y1="488.31" x2="57.1" y2="488.31" stroke="#1e1e1e" stroke-width="1.3"/>
<line x1="52.1" y1="647" x2="57.1" y2="647" stroke="#1e1e1e" stroke-width="1.3"/>
<text x="49.6" y="650.3" font-size="9.5" text-anchor="end" font-weight="bold" font-style="normal">0</text>
<line x1="52.1" y1="614.6" x2="57.1" y2="614.6" stroke="#1e1e1e" stroke-width="1.3"/>
<text x="49.6" y="617.9" font-size="9.5" text-anchor="end" font-weight="bold" font-style="normal">7</text>
<line x1="52.1" y1="582.2" x2="57.1" y2="582.2" stroke="#1e1e1e" stroke-width="1.3"/>
<text x="49.6" y="585.5" font-size="9.5" text-anchor="end" font-weight="bold" font-style="normal">14</text>
<line x1="54.1" y1="630.8" x2="57.1" y2="630.8" stroke="#1e1e1e" stroke-width="1.3"/>
<line x1="54.1" y1="598.4" x2="57.1" y2="598.4" stroke="#1e1e1e" stroke-width="1.3"/>
<line x1="54.1" y1="566" x2="57.1" y2="566" stroke="#1e1e1e" stroke-width="1.3"/>
<line x1="235.6" y1="370.3" x2="235.6" y2="646" stroke="#a0a0a0" stroke-width="1.1" stroke-dasharray="2.6,2.6"/>
<text x="241.1" y="381.3" font-size="10.5" font-weight="bold" font-style="italic">E<tspan font-size="7" dy="3.6" dx="-0.3">f</tspan></text>
<line x1="58.1" y1="379.5" x2="82.1" y2="379.5" stroke="#161616" stroke-width="1.6"/>
<text x="84.6" y="383" font-size="10.4" text-anchor="start" font-weight="bold" font-style="normal">H (1s)</text>
<line x1="58.1" y1="474.5" x2="82.1" y2="474.5" stroke="#161616" stroke-width="1.6"/>
<text x="84.6" y="478" font-size="10.4" text-anchor="start" font-weight="bold" font-style="normal">Mg (3s)</text>
<line x1="58.1" y1="488.3" x2="82.1" y2="488.3" stroke="#cf2b33" stroke-width="2.0"/>
<text x="84.6" y="491.8" font-size="10.4" text-anchor="start" font-weight="bold" font-style="normal">Mg (2p)</text>
<line x1="58.1" y1="565.5" x2="82.1" y2="565.5" stroke="#161616" stroke-width="1.6"/>
<text x="84.6" y="569" font-size="10.4" text-anchor="start" font-weight="bold" font-style="normal">MgH<tspan font-size="6.5" dy="3.2" dx="0.6">2</tspan><tspan dy="-3.2" dx="0.4"> (Mg(Fe)O/MgH</tspan><tspan font-size="6.5" dy="3.2" dx="0.6">2</tspan><tspan dy="-3.2" dx="0.4">)</tspan></text>
<text x="29.8" y="507.2" font-size="10.5" text-anchor="middle" font-weight="bold" font-style="normal" transform="rotate(-90 29.8 507.2)">DOS(electrons/eV)</text>
<text x="206.7" y="671.5" font-size="10" text-anchor="middle" font-weight="bold" font-style="normal">Energy(eV)</text>
<text x="206.5" y="695" font-size="18.5" text-anchor="middle" font-weight="bold" font-style="normal" stroke-width="0.1">(e)</text>
<rect x="407.8" y="367.6" width="300.8" height="278.6" fill="none" stroke="#1e1e1e" stroke-width="1.9"/>
<line x1="407.8" y1="460.47" x2="708.6" y2="460.47" stroke="#1e1e1e" stroke-width="1.9"/>
<line x1="407.8" y1="553.33" x2="708.6" y2="553.33" stroke="#1e1e1e" stroke-width="1.9"/>
<line x1="407.8" y1="460.47" x2="407.8" y2="464.97" stroke="#1e1e1e" stroke-width="1.3"/>
<line x1="437.88" y1="460.47" x2="437.88" y2="462.97" stroke="#1e1e1e" stroke-width="1.3"/>
<line x1="467.96" y1="460.47" x2="467.96" y2="464.97" stroke="#1e1e1e" stroke-width="1.3"/>
<line x1="498.04" y1="460.47" x2="498.04" y2="462.97" stroke="#1e1e1e" stroke-width="1.3"/>
<line x1="528.12" y1="460.47" x2="528.12" y2="464.97" stroke="#1e1e1e" stroke-width="1.3"/>
<line x1="558.2" y1="460.47" x2="558.2" y2="462.97" stroke="#1e1e1e" stroke-width="1.3"/>
<line x1="588.28" y1="460.47" x2="588.28" y2="464.97" stroke="#1e1e1e" stroke-width="1.3"/>
<line x1="618.36" y1="460.47" x2="618.36" y2="462.97" stroke="#1e1e1e" stroke-width="1.3"/>
<line x1="648.44" y1="460.47" x2="648.44" y2="464.97" stroke="#1e1e1e" stroke-width="1.3"/>
<line x1="678.52" y1="460.47" x2="678.52" y2="462.97" stroke="#1e1e1e" stroke-width="1.3"/>
<line x1="708.6" y1="460.47" x2="708.6" y2="464.97" stroke="#1e1e1e" stroke-width="1.3"/>
<line x1="407.8" y1="553.33" x2="407.8" y2="557.83" stroke="#1e1e1e" stroke-width="1.3"/>
<line x1="437.88" y1="553.33" x2="437.88" y2="555.83" stroke="#1e1e1e" stroke-width="1.3"/>
<line x1="467.96" y1="553.33" x2="467.96" y2="557.83" stroke="#1e1e1e" stroke-width="1.3"/>
<line x1="498.04" y1="553.33" x2="498.04" y2="555.83" stroke="#1e1e1e" stroke-width="1.3"/>
<line x1="528.12" y1="553.33" x2="528.12" y2="557.83" stroke="#1e1e1e" stroke-width="1.3"/>
<line x1="558.2" y1="553.33" x2="558.2" y2="555.83" stroke="#1e1e1e" stroke-width="1.3"/>
<line x1="588.28" y1="553.33" x2="588.28" y2="557.83" stroke="#1e1e1e" stroke-width="1.3"/>
<line x1="618.36" y1="553.33" x2="618.36" y2="555.83" stroke="#1e1e1e" stroke-width="1.3"/>
<line x1="648.44" y1="553.33" x2="648.44" y2="557.83" stroke="#1e1e1e" stroke-width="1.3"/>
<line x1="678.52" y1="553.33" x2="678.52" y2="555.83" stroke="#1e1e1e" stroke-width="1.3"/>
<line x1="708.6" y1="553.33" x2="708.6" y2="557.83" stroke="#1e1e1e" stroke-width="1.3"/>
<line x1="407.8" y1="646.2" x2="407.8" y2="650.7" stroke="#1e1e1e" stroke-width="1.3"/>
<line x1="437.88" y1="646.2" x2="437.88" y2="648.7" stroke="#1e1e1e" stroke-width="1.3"/>
<line x1="467.96" y1="646.2" x2="467.96" y2="650.7" stroke="#1e1e1e" stroke-width="1.3"/>
<line x1="498.04" y1="646.2" x2="498.04" y2="648.7" stroke="#1e1e1e" stroke-width="1.3"/>
<line x1="528.12" y1="646.2" x2="528.12" y2="650.7" stroke="#1e1e1e" stroke-width="1.3"/>
<line x1="558.2" y1="646.2" x2="558.2" y2="648.7" stroke="#1e1e1e" stroke-width="1.3"/>
<line x1="588.28" y1="646.2" x2="588.28" y2="650.7" stroke="#1e1e1e" stroke-width="1.3"/>
<line x1="618.36" y1="646.2" x2="618.36" y2="648.7" stroke="#1e1e1e" stroke-width="1.3"/>
<line x1="648.44" y1="646.2" x2="648.44" y2="650.7" stroke="#1e1e1e" stroke-width="1.3"/>
<line x1="678.52" y1="646.2" x2="678.52" y2="648.7" stroke="#1e1e1e" stroke-width="1.3"/>
<line x1="708.6" y1="646.2" x2="708.6" y2="650.7" stroke="#1e1e1e" stroke-width="1.3"/>
<text x="407.8" y="661.6" font-size="9.5" text-anchor="middle" font-weight="bold" font-style="normal">-15</text>
<text x="467.96" y="661.6" font-size="9.5" text-anchor="middle" font-weight="bold" font-style="normal">-10</text>
<text x="528.12" y="661.6" font-size="9.5" text-anchor="middle" font-weight="bold" font-style="normal">-5</text>
<text x="588.28" y="661.6" font-size="9.5" text-anchor="middle" font-weight="bold" font-style="normal">0</text>
<text x="648.44" y="661.6" font-size="9.5" text-anchor="middle" font-weight="bold" font-style="normal">5</text>
<text x="708.6" y="661.6" font-size="9.5" text-anchor="middle" font-weight="bold" font-style="normal">10</text>
<line x1="402.8" y1="460.47" x2="407.8" y2="460.47" stroke="#1e1e1e" stroke-width="1.3"/>
<text x="400.3" y="463.77" font-size="9.5" text-anchor="end" font-weight="bold" font-style="normal">0.0</text>
<line x1="402.8" y1="432.61" x2="407.8" y2="432.61" stroke="#1e1e1e" stroke-width="1.3"/>
<text x="400.3" y="435.91" font-size="9.5" text-anchor="end" font-weight="bold" font-style="normal">0.3</text>
<line x1="402.8" y1="404.75" x2="407.8" y2="404.75" stroke="#1e1e1e" stroke-width="1.3"/>
<text x="400.3" y="408.05" font-size="9.5" text-anchor="end" font-weight="bold" font-style="normal">0.6</text>
<line x1="402.8" y1="376.89" x2="407.8" y2="376.89" stroke="#1e1e1e" stroke-width="1.3"/>
<text x="400.3" y="380.19" font-size="9.5" text-anchor="end" font-weight="bold" font-style="normal">0.9</text>
<line x1="404.8" y1="446.54" x2="407.8" y2="446.54" stroke="#1e1e1e" stroke-width="1.3"/>
<line x1="404.8" y1="418.68" x2="407.8" y2="418.68" stroke="#1e1e1e" stroke-width="1.3"/>
<line x1="404.8" y1="390.82" x2="407.8" y2="390.82" stroke="#1e1e1e" stroke-width="1.3"/>
<line x1="402.8" y1="553.33" x2="407.8" y2="553.33" stroke="#1e1e1e" stroke-width="1.3"/>
<text x="400.3" y="556.63" font-size="9.5" text-anchor="end" font-weight="bold" font-style="normal">0.0</text>
<line x1="402.8" y1="526.8" x2="407.8" y2="526.8" stroke="#1e1e1e" stroke-width="1.3"/>
<text x="400.3" y="530.1" font-size="9.5" text-anchor="end" font-weight="bold" font-style="normal">0.2</text>
<line x1="402.8" y1="500.27" x2="407.8" y2="500.27" stroke="#1e1e1e" stroke-width="1.3"/>
<text x="400.3" y="503.57" font-size="9.5" text-anchor="end" font-weight="bold" font-style="normal">0.4</text>
<line x1="402.8" y1="473.73" x2="407.8" y2="473.73" stroke="#1e1e1e" stroke-width="1.3"/>
<text x="400.3" y="477.03" font-size="9.5" text-anchor="end" font-weight="bold" font-style="normal">0.6</text>
<line x1="404.8" y1="540.07" x2="407.8" y2="540.07" stroke="#1e1e1e" stroke-width="1.3"/>
<line x1="404.8" y1="513.53" x2="407.8" y2="513.53" stroke="#1e1e1e" stroke-width="1.3"/>
<line x1="404.8" y1="487" x2="407.8" y2="487" stroke="#1e1e1e" stroke-width="1.3"/>
<line x1="402.8" y1="646.2" x2="407.8" y2="646.2" stroke="#1e1e1e" stroke-width="1.3"/>
<text x="400.3" y="649.5" font-size="9.5" text-anchor="end" font-weight="bold" font-style="normal">0</text>
<line x1="402.8" y1="613.7" x2="407.8" y2="613.7" stroke="#1e1e1e" stroke-width="1.3"/>
<text x="400.3" y="617" font-size="9.5" text-anchor="end" font-weight="bold" font-style="normal">7</text>
<line x1="402.8" y1="581.19" x2="407.8" y2="581.19" stroke="#1e1e1e" stroke-width="1.3"/>
<text x="400.3" y="584.49" font-size="9.5" text-anchor="end" font-weight="bold" font-style="normal">14</text>
<line x1="404.8" y1="629.95" x2="407.8" y2="629.95" stroke="#1e1e1e" stroke-width="1.3"/>
<line x1="404.8" y1="597.45" x2="407.8" y2="597.45" stroke="#1e1e1e" stroke-width="1.3"/>
<line x1="404.8" y1="564.94" x2="407.8" y2="564.94" stroke="#1e1e1e" stroke-width="1.3"/>
<line x1="588.28" y1="368.6" x2="588.28" y2="645.2" stroke="#a0a0a0" stroke-width="1.1" stroke-dasharray="2.6,2.6"/>
<text x="594.08" y="379.3" font-size="10.5" font-weight="bold" font-style="italic">E<tspan font-size="7" dy="3.6" dx="-0.3">f</tspan></text>
<line x1="408.8" y1="378.7" x2="432.8" y2="378.7" stroke="#161616" stroke-width="1.6"/>
<text x="435.3" y="382.2" font-size="10.4" text-anchor="start" font-weight="bold" font-style="normal">H (1s)</text>
<line x1="408.8" y1="472.5" x2="432.8" y2="472.5" stroke="#161616" stroke-width="1.6"/>
<text x="435.3" y="476" font-size="10.4" text-anchor="start" font-weight="bold" font-style="normal">Mg (3s)</text>
<line x1="408.8" y1="485.9" x2="432.8" y2="485.9" stroke="#cf2b33" stroke-width="2.0"/>
<text x="435.3" y="489.4" font-size="10.4" text-anchor="start" font-weight="bold" font-style="normal">Mg (2p)</text>
<line x1="408.8" y1="565.3" x2="432.8" y2="565.3" stroke="#161616" stroke-width="1.6"/>
<text x="435.3" y="568.8" font-size="10.4" text-anchor="start" font-weight="bold" font-style="normal">MgH<tspan font-size="6.5" dy="3.2" dx="0.6">2</tspan><tspan dy="-3.2" dx="0.4"> (Mg(Co)O/MgH</tspan><tspan font-size="6.5" dy="3.2" dx="0.6">2</tspan><tspan dy="-3.2" dx="0.4">)</tspan></text>
<text x="379.8" y="506.7" font-size="10.5" text-anchor="middle" font-weight="bold" font-style="normal" transform="rotate(-90 379.8 506.7)">DOS(electrons/eV)</text>
<text x="561" y="671.7" font-size="10" text-anchor="middle" font-weight="bold" font-style="normal">Energy(eV)</text>
<text x="561.7" y="694.8" font-size="18.5" text-anchor="middle" font-weight="bold" font-style="normal" stroke-width="0.1">(f)</text>
<rect x="764.2" y="368.9" width="301.8" height="280.5" fill="none" stroke="#1e1e1e" stroke-width="1.9"/>
<line x1="764.2" y1="462.4" x2="1066" y2="462.4" stroke="#1e1e1e" stroke-width="1.9"/>
<line x1="764.2" y1="555.9" x2="1066" y2="555.9" stroke="#1e1e1e" stroke-width="1.9"/>
<line x1="764.2" y1="462.4" x2="764.2" y2="466.9" stroke="#1e1e1e" stroke-width="1.3"/>
<line x1="794.38" y1="462.4" x2="794.38" y2="464.9" stroke="#1e1e1e" stroke-width="1.3"/>
<line x1="824.56" y1="462.4" x2="824.56" y2="466.9" stroke="#1e1e1e" stroke-width="1.3"/>
<line x1="854.74" y1="462.4" x2="854.74" y2="464.9" stroke="#1e1e1e" stroke-width="1.3"/>
<line x1="884.92" y1="462.4" x2="884.92" y2="466.9" stroke="#1e1e1e" stroke-width="1.3"/>
<line x1="915.1" y1="462.4" x2="915.1" y2="464.9" stroke="#1e1e1e" stroke-width="1.3"/>
<line x1="945.28" y1="462.4" x2="945.28" y2="466.9" stroke="#1e1e1e" stroke-width="1.3"/>
<line x1="975.46" y1="462.4" x2="975.46" y2="464.9" stroke="#1e1e1e" stroke-width="1.3"/>
<line x1="1005.64" y1="462.4" x2="1005.64" y2="466.9" stroke="#1e1e1e" stroke-width="1.3"/>
<line x1="1035.82" y1="462.4" x2="1035.82" y2="464.9" stroke="#1e1e1e" stroke-width="1.3"/>
<line x1="1066" y1="462.4" x2="1066" y2="466.9" stroke="#1e1e1e" stroke-width="1.3"/>
<line x1="764.2" y1="555.9" x2="764.2" y2="560.4" stroke="#1e1e1e" stroke-width="1.3"/>
<line x1="794.38" y1="555.9" x2="794.38" y2="558.4" stroke="#1e1e1e" stroke-width="1.3"/>
<line x1="824.56" y1="555.9" x2="824.56" y2="560.4" stroke="#1e1e1e" stroke-width="1.3"/>
<line x1="854.74" y1="555.9" x2="854.74" y2="558.4" stroke="#1e1e1e" stroke-width="1.3"/>
<line x1="884.92" y1="555.9" x2="884.92" y2="560.4" stroke="#1e1e1e" stroke-width="1.3"/>
<line x1="915.1" y1="555.9" x2="915.1" y2="558.4" stroke="#1e1e1e" stroke-width="1.3"/>
<line x1="945.28" y1="555.9" x2="945.28" y2="560.4" stroke="#1e1e1e" stroke-width="1.3"/>
<line x1="975.46" y1="555.9" x2="975.46" y2="558.4" stroke="#1e1e1e" stroke-width="1.3"/>
<line x1="1005.64" y1="555.9" x2="1005.64" y2="560.4" stroke="#1e1e1e" stroke-width="1.3"/>
<line x1="1035.82" y1="555.9" x2="1035.82" y2="558.4" stroke="#1e1e1e" stroke-width="1.3"/>
<line x1="1066" y1="555.9" x2="1066" y2="560.4" stroke="#1e1e1e" stroke-width="1.3"/>
<line x1="764.2" y1="649.4" x2="764.2" y2="653.9" stroke="#1e1e1e" stroke-width="1.3"/>
<line x1="794.38" y1="649.4" x2="794.38" y2="651.9" stroke="#1e1e1e" stroke-width="1.3"/>
<line x1="824.56" y1="649.4" x2="824.56" y2="653.9" stroke="#1e1e1e" stroke-width="1.3"/>
<line x1="854.74" y1="649.4" x2="854.74" y2="651.9" stroke="#1e1e1e" stroke-width="1.3"/>
<line x1="884.92" y1="649.4" x2="884.92" y2="653.9" stroke="#1e1e1e" stroke-width="1.3"/>
<line x1="915.1" y1="649.4" x2="915.1" y2="651.9" stroke="#1e1e1e" stroke-width="1.3"/>
<line x1="945.28" y1="649.4" x2="945.28" y2="653.9" stroke="#1e1e1e" stroke-width="1.3"/>
<line x1="975.46" y1="649.4" x2="975.46" y2="651.9" stroke="#1e1e1e" stroke-width="1.3"/>
<line x1="1005.64" y1="649.4" x2="1005.64" y2="653.9" stroke="#1e1e1e" stroke-width="1.3"/>
<line x1="1035.82" y1="649.4" x2="1035.82" y2="651.9" stroke="#1e1e1e" stroke-width="1.3"/>
<line x1="1066" y1="649.4" x2="1066" y2="653.9" stroke="#1e1e1e" stroke-width="1.3"/>
<text x="764.2" y="664.8" font-size="9.5" text-anchor="middle" font-weight="bold" font-style="normal">-15</text>
<text x="824.56" y="664.8" font-size="9.5" text-anchor="middle" font-weight="bold" font-style="normal">-10</text>
<text x="884.92" y="664.8" font-size="9.5" text-anchor="middle" font-weight="bold" font-style="normal">-5</text>
<text x="945.28" y="664.8" font-size="9.5" text-anchor="middle" font-weight="bold" font-style="normal">0</text>
<text x="1005.64" y="664.8" font-size="9.5" text-anchor="middle" font-weight="bold" font-style="normal">5</text>
<text x="1066" y="664.8" font-size="9.5" text-anchor="middle" font-weight="bold" font-style="normal">10</text>
<line x1="759.2" y1="462.4" x2="764.2" y2="462.4" stroke="#1e1e1e" stroke-width="1.3"/>
<text x="756.7" y="465.7" font-size="9.5" text-anchor="end" font-weight="bold" font-style="normal">0.0</text>
<line x1="759.2" y1="434.35" x2="764.2" y2="434.35" stroke="#1e1e1e" stroke-width="1.3"/>
<text x="756.7" y="437.65" font-size="9.5" text-anchor="end" font-weight="bold" font-style="normal">0.3</text>
<line x1="759.2" y1="406.3" x2="764.2" y2="406.3" stroke="#1e1e1e" stroke-width="1.3"/>
<text x="756.7" y="409.6" font-size="9.5" text-anchor="end" font-weight="bold" font-style="normal">0.6</text>
<line x1="759.2" y1="378.25" x2="764.2" y2="378.25" stroke="#1e1e1e" stroke-width="1.3"/>
<text x="756.7" y="381.55" font-size="9.5" text-anchor="end" font-weight="bold" font-style="normal">0.9</text>
<line x1="761.2" y1="448.38" x2="764.2" y2="448.38" stroke="#1e1e1e" stroke-width="1.3"/>
<line x1="761.2" y1="420.32" x2="764.2" y2="420.32" stroke="#1e1e1e" stroke-width="1.3"/>
<line x1="761.2" y1="392.27" x2="764.2" y2="392.27" stroke="#1e1e1e" stroke-width="1.3"/>
<line x1="759.2" y1="555.9" x2="764.2" y2="555.9" stroke="#1e1e1e" stroke-width="1.3"/>
<text x="756.7" y="559.2" font-size="9.5" text-anchor="end" font-weight="bold" font-style="normal">0.0</text>
<line x1="759.2" y1="529.19" x2="764.2" y2="529.19" stroke="#1e1e1e" stroke-width="1.3"/>
<text x="756.7" y="532.49" font-size="9.5" text-anchor="end" font-weight="bold" font-style="normal">0.2</text>
<line x1="759.2" y1="502.47" x2="764.2" y2="502.47" stroke="#1e1e1e" stroke-width="1.3"/>
<text x="756.7" y="505.77" font-size="9.5" text-anchor="end" font-weight="bold" font-style="normal">0.4</text>
<line x1="759.2" y1="475.76" x2="764.2" y2="475.76" stroke="#1e1e1e" stroke-width="1.3"/>
<text x="756.7" y="479.06" font-size="9.5" text-anchor="end" font-weight="bold" font-style="normal">0.6</text>
<line x1="761.2" y1="542.54" x2="764.2" y2="542.54" stroke="#1e1e1e" stroke-width="1.3"/>
<line x1="761.2" y1="515.83" x2="764.2" y2="515.83" stroke="#1e1e1e" stroke-width="1.3"/>
<line x1="761.2" y1="489.11" x2="764.2" y2="489.11" stroke="#1e1e1e" stroke-width="1.3"/>
<line x1="759.2" y1="649.4" x2="764.2" y2="649.4" stroke="#1e1e1e" stroke-width="1.3"/>
<text x="756.7" y="652.7" font-size="9.5" text-anchor="end" font-weight="bold" font-style="normal">0</text>
<line x1="759.2" y1="616.67" x2="764.2" y2="616.67" stroke="#1e1e1e" stroke-width="1.3"/>
<text x="756.7" y="619.97" font-size="9.5" text-anchor="end" font-weight="bold" font-style="normal">7</text>
<line x1="759.2" y1="583.95" x2="764.2" y2="583.95" stroke="#1e1e1e" stroke-width="1.3"/>
<text x="756.7" y="587.25" font-size="9.5" text-anchor="end" font-weight="bold" font-style="normal">14</text>
<line x1="761.2" y1="633.04" x2="764.2" y2="633.04" stroke="#1e1e1e" stroke-width="1.3"/>
<line x1="761.2" y1="600.31" x2="764.2" y2="600.31" stroke="#1e1e1e" stroke-width="1.3"/>
<line x1="761.2" y1="567.59" x2="764.2" y2="567.59" stroke="#1e1e1e" stroke-width="1.3"/>
<line x1="945.28" y1="369.9" x2="945.28" y2="648.4" stroke="#a0a0a0" stroke-width="1.1" stroke-dasharray="2.6,2.6"/>
<text x="948.98" y="380.2" font-size="10.5" font-weight="bold" font-style="italic">E<tspan font-size="7" dy="3.6" dx="-0.3">f</tspan></text>
<line x1="765.2" y1="379.5" x2="789.2" y2="379.5" stroke="#161616" stroke-width="1.6"/>
<text x="791.7" y="383" font-size="10.4" text-anchor="start" font-weight="bold" font-style="normal">H (1s)</text>
<line x1="765.2" y1="474.5" x2="789.2" y2="474.5" stroke="#161616" stroke-width="1.6"/>
<text x="791.7" y="478" font-size="10.4" text-anchor="start" font-weight="bold" font-style="normal">Mg (3s)</text>
<line x1="765.2" y1="487.9" x2="789.2" y2="487.9" stroke="#cf2b33" stroke-width="2.0"/>
<text x="791.7" y="491.4" font-size="10.4" text-anchor="start" font-weight="bold" font-style="normal">Mg (2p)</text>
<line x1="765.2" y1="567.3" x2="789.2" y2="567.3" stroke="#161616" stroke-width="1.6"/>
<text x="791.7" y="570.8" font-size="10.4" text-anchor="start" font-weight="bold" font-style="normal">MgH<tspan font-size="6.5" dy="3.2" dx="0.6">2</tspan><tspan dy="-3.2" dx="0.4"> (Mg(Ni)O/MgH</tspan><tspan font-size="6.5" dy="3.2" dx="0.6">2</tspan><tspan dy="-3.2" dx="0.4">)</tspan></text>
<text x="738.1" y="507.7" font-size="10.5" text-anchor="middle" font-weight="bold" font-style="normal" transform="rotate(-90 738.1 507.7)">DOS(electrons/eV)</text>
<text x="916.1" y="674.8" font-size="10" text-anchor="middle" font-weight="bold" font-style="normal">Energy(eV)</text>
<text x="920" y="694.8" font-size="18.5" text-anchor="middle" font-weight="bold" font-style="normal" stroke-width="0.1">(g)</text>
<rect x="1118.2" y="370.6" width="303.4" height="278.4" fill="none" stroke="#1e1e1e" stroke-width="1.9"/>
<line x1="1118.2" y1="649" x2="1118.2" y2="653.5" stroke="#1e1e1e" stroke-width="1.3"/>
<line x1="1148.54" y1="649" x2="1148.54" y2="651.5" stroke="#1e1e1e" stroke-width="1.3"/>
<line x1="1178.88" y1="649" x2="1178.88" y2="653.5" stroke="#1e1e1e" stroke-width="1.3"/>
<line x1="1209.22" y1="649" x2="1209.22" y2="651.5" stroke="#1e1e1e" stroke-width="1.3"/>
<line x1="1239.56" y1="649" x2="1239.56" y2="653.5" stroke="#1e1e1e" stroke-width="1.3"/>
<line x1="1269.9" y1="649" x2="1269.9" y2="651.5" stroke="#1e1e1e" stroke-width="1.3"/>
<line x1="1300.24" y1="649" x2="1300.24" y2="653.5" stroke="#1e1e1e" stroke-width="1.3"/>
<line x1="1330.58" y1="649" x2="1330.58" y2="651.5" stroke="#1e1e1e" stroke-width="1.3"/>
<line x1="1360.92" y1="649" x2="1360.92" y2="653.5" stroke="#1e1e1e" stroke-width="1.3"/>
<line x1="1391.26" y1="649" x2="1391.26" y2="651.5" stroke="#1e1e1e" stroke-width="1.3"/>
<line x1="1421.6" y1="649" x2="1421.6" y2="653.5" stroke="#1e1e1e" stroke-width="1.3"/>
<text x="1118.2" y="664.4" font-size="9.5" text-anchor="middle" font-weight="bold" font-style="normal">-15</text>
<text x="1178.88" y="664.4" font-size="9.5" text-anchor="middle" font-weight="bold" font-style="normal">-10</text>
<text x="1239.56" y="664.4" font-size="9.5" text-anchor="middle" font-weight="bold" font-style="normal">-5</text>
<text x="1300.24" y="664.4" font-size="9.5" text-anchor="middle" font-weight="bold" font-style="normal">0</text>
<text x="1360.92" y="664.4" font-size="9.5" text-anchor="middle" font-weight="bold" font-style="normal">5</text>
<text x="1421.6" y="664.4" font-size="9.5" text-anchor="middle" font-weight="bold" font-style="normal">10</text>
<line x1="1300.24" y1="371.6" x2="1300.24" y2="648" stroke="#a0a0a0" stroke-width="1.1" stroke-dasharray="2.6,2.6"/>
<text x="1302.64" y="383.3" font-size="10.5" font-weight="bold" font-style="italic">E<tspan font-size="7" dy="3.6" dx="-0.3">f</tspan></text>
<text x="1121.2" y="413.8" font-size="10.4" text-anchor="start" font-weight="bold" font-style="normal">Mg(Ni)O/MgH<tspan font-size="6.5" dy="2.5">2</tspan></text>
<text x="1121.2" y="448.8" font-size="10.4" text-anchor="start" font-weight="bold" font-style="normal">Mg(Co)O/MgH<tspan font-size="6.5" dy="2.5">2</tspan></text>
<text x="1121.2" y="483.8" font-size="10.4" text-anchor="start" font-weight="bold" font-style="normal">Mg(Fe)O/MgH<tspan font-size="6.5" dy="2.5">2</tspan></text>
<text x="1121.2" y="518.8" font-size="10.4" text-anchor="start" font-weight="bold" font-style="normal">Mg(Nb)O/MgH<tspan font-size="6.5" dy="2.5">2</tspan></text>
<text x="1121.2" y="553.8" font-size="10.4" text-anchor="start" font-weight="bold" font-style="normal">Mg(V)O/MgH<tspan font-size="6.5" dy="2.5">2</tspan></text>
<text x="1121.2" y="588.8" font-size="10.4" text-anchor="start" font-weight="bold" font-style="normal">Mg(Ti)O/MgH<tspan font-size="6.5" dy="2.5">2</tspan></text>
<text x="1121.2" y="640" font-size="10.4" text-anchor="start" font-weight="bold" font-style="normal">MgO/MgH<tspan font-size="6.5" dy="2.5">2</tspan></text>
<text x="1102.8" y="513.6" font-size="10" text-anchor="middle" font-weight="bold" font-style="normal" transform="rotate(-90 1102.8 513.6)">DOS(electrons/eV)</text>
<text x="1271" y="673.7" font-size="10" text-anchor="middle" font-weight="bold" font-style="normal">Energy(eV)</text>
<text x="1275.8" y="695" font-size="18.5" text-anchor="middle" font-weight="bold" font-style="normal" stroke-width="0.1">(h)</text>
</g>
<path d="M144.58,116.1 C148.14,115.36 151.7,114.77 155.27,113.89 C157.81,113.26 160.36,111.84 162.9,111.6 C164.68,111.44 166.46,111.49 168.24,111.3 C170.28,111.08 172.32,105.5 174.35,105.5 C176.9,105.5 179.44,108.55 181.98,108.55 C184.17,108.55 186.36,103.21 188.55,103.21 C190.43,103.21 192.32,107.33 194.2,107.33 C197,107.33 199.8,91.76 202.6,91.76 C204.38,91.76 206.16,96.03 207.94,96.03 C210.48,96.03 213.03,81.04 215.57,76.49 C216.08,75.58 216.59,74.2 217.1,74.2 C218.12,74.2 219.13,75.27 220.15,75.27 C221.93,75.27 223.72,42.9 225.5,42.9 C226.26,42.9 227.02,46.98 227.79,50.53 C229.06,56.46 230.33,79.32 231.6,84.12 C232.88,88.92 234.15,89.2 235.42,93.28 C236.95,98.18 238.47,116.1 240,116.1 C248.91,116.1 257.81,116.1 266.72,116.1 C269.26,116.1 271.81,114.1 274.35,113.89 C280.46,113.4 286.56,113.64 292.67,113.13 C294.45,112.98 296.23,111.6 298.02,111.6 C299.8,111.6 301.58,113.33 303.36,114.66 C303.87,115.04 304.38,115.62 304.89,116.1" fill="none" stroke="#161616" stroke-width="2.0" stroke-linejoin="round" stroke-linecap="round"/>
<path d="M146.11,208.9 C147.89,208.08 149.67,207.53 151.45,206.44 C153.23,205.34 155.01,202.88 156.79,201.55 C159.08,199.84 161.37,197.27 163.66,197.27 C164.94,197.27 166.21,198.8 167.48,198.8 C170.03,198.8 172.57,189.03 175.11,189.03 C177.91,189.03 180.71,194.68 183.51,194.68 C185.19,194.68 186.87,190.1 188.55,190.1 C191.2,190.1 193.84,200.02 196.49,200.02 C198.02,200.02 199.54,198.5 201.07,198.5 C203.87,198.5 206.67,204.6 209.47,204.6 C211.76,204.6 214.05,199.72 216.34,199.72 C218.12,199.72 219.9,204.11 221.68,204.6 C223.21,205.03 224.73,204.97 226.26,205.37 C228.04,205.83 229.82,208.9 231.6,208.9 C232.62,208.9 233.64,208.9 234.66,208.9" fill="none" stroke="#161616" stroke-width="2.0" stroke-linejoin="round" stroke-linecap="round"/>
<path d="M270.53,208.9 C273.08,204.41 275.62,201.82 278.17,195.44 C279.95,190.98 281.73,176.79 283.51,174.07 C284.63,172.36 285.75,170.71 286.87,170.71 C288.8,170.71 290.74,174.53 292.67,177.12 C294.2,179.17 295.73,181.48 297.25,184.76 C298.78,188.03 300.31,193.6 301.83,198.5 C302.85,201.76 303.87,205.43 304.89,208.9" fill="none" stroke="#161616" stroke-width="2.0" stroke-linejoin="round" stroke-linecap="round"/>
<path d="M175.11,208.9 C178.68,207.47 182.24,205.54 185.8,204.6 C188.35,203.94 190.89,204.01 193.44,203.08 C195.22,202.42 197,198.84 198.78,195.44 C200.56,192.05 202.34,180.18 204.12,180.18 C206.16,180.18 208.19,189.34 210.23,189.34 C212.77,189.34 215.32,173.31 217.86,173.31 C219.64,173.31 221.42,179.79 223.21,183.23 C224.48,185.68 225.75,188.13 227.02,190.86 C228.55,194.14 230.08,199.39 231.6,201.55 C234.15,205.14 236.69,206.45 239.24,208.9" fill="none" stroke="#cf2b33" stroke-width="2.0" stroke-linejoin="round" stroke-linecap="round"/>
<path d="M269.01,208.9 C272.32,203.91 275.62,201.88 278.93,193.92 C280.46,190.24 281.98,173.31 283.51,173.31 C285.29,173.31 287.07,180.94 288.85,180.94 C290.13,180.94 291.4,178.85 292.67,176.36 C294.2,173.37 295.73,148.88 297.25,148.88 C298.78,148.88 300.31,169.22 301.83,180.18 C303.1,189.3 304.38,199.33 305.65,208.9" fill="none" stroke="#cf2b33" stroke-width="2.0" stroke-linejoin="round" stroke-linecap="round"/>
<path d="M143.82,301.7 C145.6,299.49 147.38,297.49 149.16,295.08 C151.2,292.32 153.23,285.92 155.27,285.92 C156.54,285.92 157.81,286.22 159.08,286.22 C161.12,286.22 163.16,281.2 165.19,279.81 C166.97,278.59 168.75,277.89 170.53,277.06 C172.57,276.11 174.61,275.66 176.64,274.47 C178.17,273.57 179.69,270.34 181.22,270.34 C182.24,270.34 183.26,270.34 184.27,270.34 C185.7,270.34 187.12,267.6 188.55,267.6 C190.69,267.6 192.82,269.89 194.96,269.89 C195.98,269.89 197,267.84 198.02,266.07 C199.54,263.41 201.07,251.56 202.6,251.56 C204.38,251.56 206.16,258.44 207.94,258.44 C210.74,258.44 213.54,239.35 216.34,239.35 C217.35,239.35 218.37,242.55 219.39,245.46 C220.15,247.64 220.92,254.46 221.68,256.15 C223.21,259.52 224.73,259.19 226.26,262.25 C227.53,264.8 228.8,271.57 230.08,276.76 C231.35,281.94 232.62,289.89 233.89,293.55 C235.17,297.21 236.44,301.7 237.71,301.7 C246.62,301.7 255.52,301.7 264.43,301.7 C266.21,301.7 267.99,292.97 269.77,287.44 C271.3,282.71 272.82,274.18 274.35,270.65 C275.37,268.29 276.39,265.61 277.4,265.31 C278.32,265.03 279.24,265.1 280.15,264.85 C281.53,264.47 282.9,260.73 284.27,260.73 C285.8,260.73 287.33,264.26 288.85,266.07 C290.13,267.57 291.4,270.65 292.67,270.65 C293.94,270.65 295.22,269.43 296.49,269.43 C297.51,269.43 298.52,270.5 299.54,272.18 C300.31,273.43 301.07,283.21 301.83,287.44 C302.85,293.08 303.87,296.95 304.89,301.7" fill="none" stroke="#161616" stroke-width="2.0" stroke-linejoin="round" stroke-linecap="round"/>
<path d="M471.06,117.47 C473.65,116.81 476.24,116.32 478.83,115.49 C481.42,114.66 484.02,113.03 486.61,112.16 C488.46,111.54 490.31,111.4 492.16,110.6 C494.01,109.81 495.86,105.5 497.71,105.5 C499.93,105.5 502.15,108.83 504.37,108.83 C506.59,108.83 508.81,102.61 511.03,102.61 C512.51,102.61 513.99,106.61 515.48,106.61 C518.07,106.61 520.66,89.95 523.25,89.95 C525.47,89.95 527.69,95.95 529.91,95.95 C531.76,95.95 533.61,92.77 535.46,91.51 C536.94,90.5 538.42,90.4 539.9,88.84 C541.01,87.67 542.12,83.56 543.23,77.74 C544.2,72.69 545.16,54.66 546.12,44.43 C546.64,38.92 547.16,28.88 547.68,28.88 C548.42,28.88 549.16,33.59 549.9,37.77 C551.01,44.04 552.12,58.16 553.23,73.3 C553.97,83.38 554.71,110.74 555.45,113.27 C556.19,115.8 556.93,117.47 557.67,117.47 C565.81,117.47 573.95,117.47 582.1,117.47 C585.06,117.47 588.02,116.38 590.98,115.93 C593.2,115.6 595.42,115.05 597.64,115.05 C599.86,115.05 602.08,115.6 604.3,115.93 C607.26,116.38 610.22,117.47 613.19,117.47 C615.41,117.47 617.63,117.47 619.85,117.47" fill="none" stroke="#161616" stroke-width="2.0" stroke-linejoin="round" stroke-linecap="round"/>
<path d="M467.73,209.43 C470.32,208.12 472.91,207.13 475.5,205.49 C477.72,204.08 479.94,201.75 482.17,199.94 C484.02,198.43 485.87,195.5 487.72,195.5 C489.2,195.5 490.68,196.61 492.16,196.61 C494.01,196.61 495.86,189.5 497.71,189.5 C499.93,189.5 502.15,195.5 504.37,195.5 C506.59,195.5 508.81,192.17 511.03,192.17 C512.51,192.17 513.99,195.13 515.48,196.61 C517.33,198.46 519.18,202.16 521.03,202.16 C522.88,202.16 524.73,202.16 526.58,202.16 C528.8,202.16 531.02,205.05 533.24,205.05 C535.09,205.05 536.94,199.94 538.79,199.94 C540.64,199.94 542.49,202.94 544.34,204.38 C546.56,206.11 548.79,207.75 551.01,209.43" fill="none" stroke="#161616" stroke-width="2.0" stroke-linejoin="round" stroke-linecap="round"/>
<path d="M586.54,209.43 C589.5,207.38 592.46,206.44 595.42,203.27 C597.27,201.29 599.12,196.76 600.97,192.17 C603.19,186.66 605.41,169.96 607.63,169.96 C609.11,169.96 610.59,179.98 612.07,185.5 C613.56,191.03 615.04,199.59 616.52,203.27 C617.63,206.03 618.74,207.38 619.85,209.43" fill="none" stroke="#161616" stroke-width="2.0" stroke-linejoin="round" stroke-linecap="round"/>
<path d="M488.83,209.43 C492.53,208.86 496.23,208.48 499.93,207.71 C502.89,207.1 505.85,205.76 508.81,205.05 C511.77,204.33 514.74,204.54 517.7,203.27 C518.81,202.79 519.92,197.51 521.03,194.39 C522.51,190.22 523.99,181.06 525.47,181.06 C527.69,181.06 529.91,189.5 532.13,189.5 C535.46,189.5 538.79,176.62 542.12,176.62 C543.97,176.62 545.82,179.71 547.68,183.28 C548.79,185.43 549.9,192.25 551.01,196.61 C552.12,200.96 553.23,209.43 554.34,209.43 C555.08,209.43 555.82,209.43 556.56,209.43" fill="none" stroke="#cf2b33" stroke-width="2.0" stroke-linejoin="round" stroke-linecap="round"/>
<path d="M584.32,209.43 C587.28,207.38 590.24,206.23 593.2,203.27 C595.42,201.05 597.64,196.96 599.86,192.17 C602.45,186.57 605.04,167.74 607.63,167.74 C609.48,167.74 611.33,176.31 613.19,183.28 C614.3,187.47 615.41,197.25 616.52,201.05 C617.63,204.85 618.74,206.64 619.85,209.43" fill="none" stroke="#cf2b33" stroke-width="2.0" stroke-linejoin="round" stroke-linecap="round"/>
<path d="M468.84,301.4 C470.32,299.25 471.8,297.11 473.28,294.94 C475.13,292.22 476.98,287.21 478.83,286.72 C480.31,286.33 481.8,286.44 483.28,286.05 C485.13,285.57 486.98,279.86 488.83,278.73 C490.68,277.59 492.53,276.86 494.38,276.51 C495.49,276.29 496.6,276.06 497.71,276.06 C498.45,276.06 499.19,276.51 499.93,276.51 C501.41,276.51 502.89,272.3 504.37,271.18 C506.59,269.49 508.81,267.62 511.03,267.62 C512.51,267.62 513.99,269.4 515.48,269.4 C517.33,269.4 519.18,267.05 521.03,264.96 C522.88,262.87 524.73,254.3 526.58,254.3 C528.06,254.3 529.54,258.3 531.02,258.3 C532.13,258.3 533.24,253.07 534.35,250.52 C535.83,247.13 537.31,240.53 538.79,240.53 C539.9,240.53 541.01,242.8 542.12,244.97 C543.23,247.14 544.34,254.64 545.45,257.19 C546.56,259.73 547.68,260.27 548.79,262.74 C550.27,266.03 551.75,272.32 553.23,278.28 C554.34,282.75 555.45,290.43 556.56,293.83 C557.67,297.22 558.78,301.4 559.89,301.4 C568.03,301.4 576.17,301.4 584.32,301.4 C586.17,301.4 588.02,297.52 589.87,293.83 C591.35,290.87 592.83,282.32 594.31,278.28 C596.16,273.24 598.01,266.07 599.86,266.07 C602.08,266.07 604.3,267.72 606.52,269.84 C608,271.26 609.48,276.56 610.96,280.5 C612.45,284.45 613.93,290.02 615.41,293.83 C616.52,296.68 617.63,298.88 618.74,301.4" fill="none" stroke="#161616" stroke-width="2.0" stroke-linejoin="round" stroke-linecap="round"/>
<path d="M827.06,118.1 C830.02,116.86 832.98,115.46 835.94,114.38 C838.91,113.3 841.87,112.78 844.83,111.49 C846.31,110.85 847.79,109.81 849.27,108.83 C850.75,107.84 852.23,105.5 853.71,105.5 C855.56,105.5 857.41,109.27 859.26,109.27 C861.48,109.27 863.7,104.39 865.92,104.39 C868.14,104.39 870.37,107.72 872.59,107.72 C874.44,107.72 876.29,86.62 878.14,86.62 C880.36,86.62 882.58,97.72 884.8,97.72 C886.65,97.72 888.5,89.96 890.35,86.62 C891.46,84.62 892.57,81.07 893.68,81.07 C894.79,81.07 895.9,82.18 897.01,82.18 C898.12,82.18 899.23,69.54 900.34,59.97 C901.23,52.32 902.12,28.44 903.01,28.44 C903.97,28.44 904.93,34.59 905.9,42.21 C906.64,48.06 907.38,76.89 908.12,86.62 C909.23,101.22 910.34,118.1 911.45,118.1 C922.92,118.1 934.39,118.1 945.87,118.1 C947.72,118.1 949.57,116.31 951.42,115.93 C953.64,115.49 955.86,115.05 958.08,115.05 C960.3,115.05 962.52,115.51 964.74,115.93 C966.96,116.35 969.19,117.38 971.41,118.1" fill="none" stroke="#161616" stroke-width="2.0" stroke-linejoin="round" stroke-linecap="round"/>
<path d="M824.84,210.7 C827.06,209.11 829.28,207.7 831.5,205.93 C833.72,204.16 835.94,201.82 838.17,199.94 C840.02,198.37 841.87,195.5 843.72,195.5 C844.83,195.5 845.94,197.05 847.05,197.05 C849.27,197.05 851.49,188.83 853.71,188.83 C856.3,188.83 858.89,197.72 861.48,197.72 C863.33,197.72 865.18,192.61 867.03,192.61 C868.88,192.61 870.74,200.07 872.59,200.6 C874.44,201.14 876.29,201.1 878.14,201.49 C879.99,201.89 881.84,202.49 883.69,203.27 C885.17,203.89 886.65,205.93 888.13,205.93 C889.98,205.93 891.83,201.49 893.68,201.49 C895.53,201.49 897.38,203.7 899.23,205.05 C901.45,206.66 903.68,208.82 905.9,210.7" fill="none" stroke="#161616" stroke-width="2.0" stroke-linejoin="round" stroke-linecap="round"/>
<path d="M942.54,210.7 C944.76,208.22 946.98,206.62 949.2,203.27 C951.42,199.92 953.64,192.91 955.86,187.72 C958.08,182.54 960.3,172.18 962.52,172.18 C964.37,172.18 966.22,176.49 968.07,181.06 C969.56,184.72 971.04,197.46 972.52,203.27 C973.26,206.17 974,208.22 974.74,210.7" fill="none" stroke="#161616" stroke-width="2.0" stroke-linejoin="round" stroke-linecap="round"/>
<path d="M849.27,210.7 C852.23,209.7 855.19,208.76 858.15,207.71 C861.11,206.66 864.07,205.05 867.03,204.38 C869.25,203.88 871.48,204.06 873.7,203.27 C874.81,202.87 875.92,193.89 877.03,189.94 C878.14,186 879.25,179.29 880.36,179.29 C882.21,179.29 884.06,188.83 885.91,188.83 C887.02,188.83 888.13,188.53 889.24,188.17 C891.09,187.56 892.94,180.62 894.79,180.62 C896.64,180.62 898.49,181.18 900.34,182.17 C901.45,182.77 902.56,186.17 903.68,189.94 C904.79,193.71 905.9,203.78 907.01,210.7" fill="none" stroke="#cf2b33" stroke-width="2.0" stroke-linejoin="round" stroke-linecap="round"/>
<path d="M940.32,210.7 C942.91,208.22 945.5,206.62 948.09,203.27 C950.68,199.92 953.27,192.71 955.86,187.72 C958.45,182.73 961.04,173.29 963.63,173.29 C965.11,173.29 966.59,178.84 968.07,183.28 C969.56,187.72 971.04,197.68 972.52,203.27 C973.26,206.06 974,208.22 974.74,210.7" fill="none" stroke="#cf2b33" stroke-width="2.0" stroke-linejoin="round" stroke-linecap="round"/>
<path d="M822.62,303.3 C824.84,300.88 827.06,298.78 829.28,296.05 C831.13,293.77 832.98,288.28 834.83,288.28 C836.31,288.28 837.8,288.28 839.28,288.28 C840.76,288.28 842.24,281.33 843.72,280.5 C845.57,279.48 847.42,279.35 849.27,278.73 C850.75,278.23 852.23,277.98 853.71,277.17 C855.19,276.36 856.67,271.62 858.15,271.62 C859.63,271.62 861.11,273.84 862.59,273.84 C864.07,273.84 865.55,270.11 867.03,269.84 C868.51,269.58 869.99,269.69 871.48,269.4 C872.59,269.18 873.7,266.64 874.81,264.96 C876.66,262.16 878.51,254.97 880.36,254.97 C881.84,254.97 883.32,259.41 884.8,259.41 C886.28,259.41 887.76,256.4 889.24,253.85 C890.72,251.31 892.2,241.64 893.68,241.64 C895.16,241.64 896.64,245.49 898.12,249.41 C898.86,251.37 899.6,257.83 900.34,259.41 C901.45,261.78 902.56,261.89 903.68,263.85 C905.16,266.46 906.64,271.03 908.12,276.06 C909.23,279.84 910.34,285.97 911.45,290.5 C912.56,295.02 913.67,303.3 914.78,303.3 C923.29,303.3 931.8,303.3 940.32,303.3 C941.8,303.3 943.28,299.33 944.76,296.05 C946.61,291.95 948.46,282.12 950.31,276.06 C952.16,270.01 954.01,259.41 955.86,259.41 C957.34,259.41 958.82,264.42 960.3,267.18 C962.15,270.62 964,273.66 965.85,278.28 C967.33,281.98 968.82,288.65 970.3,292.72 C971.78,296.79 973.26,299.77 974.74,303.3" fill="none" stroke="#161616" stroke-width="2.0" stroke-linejoin="round" stroke-linecap="round"/>
<path d="M1196.39,120 C1198.61,118.42 1200.83,116.57 1203.05,115.27 C1205.27,113.97 1207.49,113.42 1209.71,111.94 C1211.93,110.46 1214.15,105.28 1216.37,105.28 C1219.33,105.28 1222.29,111.94 1225.25,111.94 C1227.48,111.94 1229.7,101.5 1231.92,101.5 C1234.14,101.5 1236.36,105.28 1238.58,105.28 C1240.8,105.28 1243.02,87.51 1245.24,87.51 C1247.46,87.51 1249.68,98.61 1251.9,98.61 C1253.75,98.61 1255.6,86.16 1257.45,80.85 C1259.31,75.54 1261.16,72.56 1263.01,66.41 C1264.12,62.73 1265.23,51.98 1266.34,51.98 C1267.45,51.98 1268.56,58.95 1269.67,66.41 C1270.41,71.39 1271.15,88.16 1271.89,95.28 C1273,105.97 1274.11,120 1275.22,120 C1287.43,120 1299.65,120 1311.86,120 C1313.34,120 1314.82,117.93 1316.3,117.93 C1318.15,117.93 1320,120 1321.85,120 C1323.7,120 1325.56,117.93 1327.41,117.93 C1328.89,117.93 1330.37,119.31 1331.85,120" fill="none" stroke="#161616" stroke-width="2.0" stroke-linejoin="round" stroke-linecap="round"/>
<path d="M1191.94,212.5 C1193.8,211.2 1195.65,210.41 1197.5,208.6 C1199.35,206.79 1201.2,201.88 1203.05,199.72 C1204.9,197.55 1206.75,194.61 1208.6,194.61 C1210.08,194.61 1211.56,196.39 1213.04,196.39 C1215.26,196.39 1217.48,193.72 1219.7,193.72 C1221.18,193.72 1222.66,195.19 1224.14,196.39 C1225.62,197.59 1227.11,201.94 1228.59,201.94 C1230.07,201.94 1231.55,197.5 1233.03,197.5 C1234.51,197.5 1235.99,199.68 1237.47,200.83 C1239.32,202.26 1241.17,204.59 1243.02,205.27 C1246.35,206.49 1249.68,207.49 1253.01,207.49 C1254.86,207.49 1256.71,202.6 1258.56,202.6 C1260.42,202.6 1262.27,205.84 1264.12,207.49 C1265.97,209.14 1267.82,210.83 1269.67,212.5" fill="none" stroke="#161616" stroke-width="2.0" stroke-linejoin="round" stroke-linecap="round"/>
<path d="M1302.98,212.5 C1305.2,211.57 1307.42,211.17 1309.64,209.71 C1311.49,208.5 1313.34,203.82 1315.19,201.94 C1317.04,200.05 1318.89,199.72 1320.74,197.5 C1322.22,195.72 1323.7,191.96 1325.19,187.5 C1326.3,184.16 1327.41,173.07 1328.52,173.07 C1330,173.07 1331.48,183.54 1332.96,189.72 C1334.07,194.37 1335.18,201.98 1336.29,205.27 C1337.4,208.56 1338.51,210.09 1339.62,212.5" fill="none" stroke="#161616" stroke-width="2.0" stroke-linejoin="round" stroke-linecap="round"/>
<path d="M1211.93,212.5 C1214.89,211.57 1217.85,210.72 1220.81,209.71 C1223.77,208.7 1226.74,207.42 1229.7,206.38 C1231.92,205.6 1234.14,205.31 1236.36,204.16 C1238.58,203.01 1240.8,200.01 1243.02,196.39 C1244.5,193.97 1245.98,185.28 1247.46,185.28 C1249.31,185.28 1251.16,190.83 1253.01,190.83 C1255.6,190.83 1258.19,178.62 1260.79,178.62 C1262.27,178.62 1263.75,183.49 1265.23,187.5 C1266.34,190.51 1267.45,197.27 1268.56,200.83 C1270.04,205.57 1271.52,208.61 1273,212.5" fill="none" stroke="#cf2b33" stroke-width="2.0" stroke-linejoin="round" stroke-linecap="round"/>
<path d="M1302.98,212.5 C1304.46,212.5 1305.94,212.5 1307.42,212.5 C1309.27,212.5 1311.12,203.87 1312.97,200.83 C1315.19,197.18 1317.41,195.46 1319.63,191.94 C1322.59,187.25 1325.56,174.18 1328.52,174.18 C1330,174.18 1331.48,182.04 1332.96,187.5 C1334.07,191.6 1335.18,199.13 1336.29,203.05 C1337.4,206.97 1338.51,209.35 1339.62,212.5" fill="none" stroke="#cf2b33" stroke-width="2.0" stroke-linejoin="round" stroke-linecap="round"/>
<path d="M1190.83,305 C1192.68,302.68 1194.54,300.92 1196.39,298.05 C1197.87,295.75 1199.35,289.98 1200.83,289.17 C1201.94,288.55 1203.05,288.56 1204.16,288.05 C1206.01,287.21 1207.86,285.06 1209.71,283.61 C1211.93,281.87 1214.15,278.97 1216.37,278.51 C1217.48,278.27 1218.59,278.06 1219.7,278.06 C1220.81,278.06 1221.92,280.28 1223.03,280.28 C1224.51,280.28 1225.99,275.1 1227.48,273.62 C1228.96,272.14 1230.44,270.29 1231.92,270.29 C1233.4,270.29 1234.88,271.84 1236.36,271.84 C1237.84,271.84 1239.32,270.5 1240.8,269.18 C1242.28,267.86 1243.76,262.05 1245.24,261.41 C1246.72,260.76 1248.2,260.3 1249.68,260.3 C1250.79,260.3 1251.9,262.96 1253.01,262.96 C1254.49,262.96 1255.97,254.03 1257.45,250.3 C1258.93,246.58 1260.42,240.31 1261.9,240.31 C1263.01,240.31 1264.12,242.65 1265.23,244.75 C1266.71,247.55 1268.19,255.11 1269.67,260.3 C1271.15,265.48 1272.63,270.31 1274.11,275.84 C1275.59,281.37 1277.07,288.17 1278.55,293.61 C1279.66,297.69 1280.77,305 1281.88,305 C1285.21,305 1288.54,305 1291.88,305 C1292.99,305 1294.1,302.15 1295.21,301.38 C1296.69,300.35 1298.17,299.16 1299.65,299.16 C1301.13,299.16 1302.61,300.35 1304.09,301.38 C1305.2,302.15 1306.31,305 1307.42,305 C1308.9,305 1310.38,295.23 1311.86,291.39 C1313.34,287.54 1314.82,284.06 1316.3,281.39 C1317.78,278.73 1319.26,275.57 1320.74,274.73 C1322.22,273.89 1323.7,273.18 1325.19,273.18 C1326.3,273.18 1327.41,274.53 1328.52,275.84 C1330,277.59 1331.48,282.69 1332.96,286.94 C1334.07,290.14 1335.18,295.2 1336.29,298.05 C1337.4,300.9 1338.51,302.68 1339.62,305" fill="none" stroke="#161616" stroke-width="2.0" stroke-linejoin="round" stroke-linecap="round"/>
<path d="M116.06,461.87 C119.02,461.22 121.98,460.72 124.94,459.93 C127.17,459.34 129.39,458.1 131.61,457.71 C134.2,457.27 136.79,457.36 139.38,456.82 C141.6,456.37 143.82,451.05 146.04,451.05 C148.26,451.05 150.48,453.94 152.7,453.94 C154.92,453.94 157.14,448.83 159.37,448.83 C161.22,448.83 163.07,453.27 164.92,453.27 C167.14,453.27 169.36,435.51 171.58,435.51 C173.8,435.51 176.02,439.5 178.24,439.5 C180.46,439.5 182.68,426.18 184.9,426.18 C186.24,426.18 187.57,427.29 188.9,427.29 C189.79,427.29 190.68,414.31 191.56,408.41 C192.45,402.51 193.34,391.76 194.23,391.76 C195.19,391.76 196.15,399.25 197.12,402.86 C198.23,407.03 199.34,409.82 200.45,415.08 C201.56,420.33 202.67,429.5 203.78,437.28 C204.89,445.06 206,461.87 207.11,461.87 C216.73,461.87 226.36,461.87 235.98,461.87 C238.2,461.87 240.42,460.65 242.64,460.38 C246.34,459.92 250.04,459.49 253.74,459.49 C256.7,459.49 259.67,460.01 262.63,460.38 C265.59,460.75 268.55,461.37 271.51,461.87" fill="none" stroke="#161616" stroke-width="2.0" stroke-linejoin="round" stroke-linecap="round"/>
<path d="M116.06,554.43 C118.28,553.12 120.5,551.94 122.72,550.49 C124.94,549.03 127.17,547.22 129.39,545.6 C131.24,544.26 133.09,541.61 134.94,541.61 C136.05,541.61 137.16,543.38 138.27,543.38 C140.86,543.38 143.45,534.5 146.04,534.5 C148.63,534.5 151.22,539.39 153.81,539.39 C155.66,539.39 157.51,536.05 159.37,536.05 C161.22,536.05 163.07,541.61 164.92,542.72 C166.77,543.83 168.62,544.94 170.47,544.94 C171.58,544.94 172.69,544.27 173.8,544.27 C175.28,544.27 176.76,549.38 178.24,549.38 C180.83,549.38 183.42,545.6 186.01,545.6 C187.86,545.6 189.71,549.21 191.56,550.05 C194.53,551.38 197.49,551.69 200.45,552.71 C201.93,553.22 203.41,553.86 204.89,554.43" fill="none" stroke="#161616" stroke-width="2.0" stroke-linejoin="round" stroke-linecap="round"/>
<path d="M235.98,554.43 C237.46,552.75 238.94,551.43 240.42,549.38 C242.64,546.31 244.86,542.32 247.08,537.17 C249.3,532.01 251.52,516.07 253.74,516.07 C255.96,516.07 258.19,520.22 260.41,523.84 C261.89,526.25 263.37,530.69 264.85,534.94 C265.96,538.14 267.07,542.1 268.18,546.05 C268.92,548.68 269.66,551.64 270.4,554.43" fill="none" stroke="#161616" stroke-width="2.0" stroke-linejoin="round" stroke-linecap="round"/>
<path d="M147.15,554.43 C150.11,553.12 153.07,551.61 156.03,550.49 C158.25,549.65 160.48,548.82 162.7,548.27 C164.55,547.81 166.4,547.97 168.25,547.16 C168.99,546.83 169.73,540.03 170.47,537.17 C171.58,532.87 172.69,526.06 173.8,526.06 C175.65,526.06 177.5,532.72 179.35,532.72 C181.94,532.72 184.53,522.06 187.12,522.06 C188.6,522.06 190.08,524.25 191.56,526.06 C193.42,528.33 195.27,533.46 197.12,537.17 C198.6,540.13 200.08,542.73 201.56,546.05 C202.67,548.54 203.78,551.64 204.89,554.43" fill="none" stroke="#cf2b33" stroke-width="2.0" stroke-linejoin="round" stroke-linecap="round"/>
<path d="M235.98,554.43 C238.2,552.38 240.42,551.11 242.64,548.27 C244.49,545.9 246.34,541.92 248.19,537.17 C249.67,533.36 251.15,521.62 252.63,521.62 C255.22,521.62 257.82,528.28 260.41,528.28 C261.89,528.28 263.37,518.29 264.85,518.29 C265.59,518.29 266.33,522.46 267.07,526.06 C267.81,529.67 268.55,539.4 269.29,543.83 C270.03,548.25 270.77,550.9 271.51,554.43" fill="none" stroke="#cf2b33" stroke-width="2.0" stroke-linejoin="round" stroke-linecap="round"/>
<path d="M116.06,647 C117.91,644.65 119.76,642.4 121.61,639.94 C123.46,637.47 125.31,632.59 127.17,632.17 C128.28,631.91 129.39,631.97 130.5,631.72 C132.35,631.3 134.2,625.4 136.05,624.39 C138.27,623.19 140.49,622.93 142.71,622.17 C144.19,621.67 145.67,621.43 147.15,620.62 C148.63,619.8 150.11,614.84 151.59,614.84 C153.07,614.84 154.55,616.18 156.03,616.18 C157.51,616.18 158.99,613.29 160.48,613.29 C162.33,613.29 164.18,614.4 166.03,614.4 C167.14,614.4 168.25,612 169.36,609.96 C170.69,607.51 172.02,597.74 173.36,597.74 C174.98,597.74 176.61,603.3 178.24,603.3 C179.35,603.3 180.46,599.19 181.57,596.63 C183.05,593.23 184.53,584.42 186.01,584.42 C187.12,584.42 188.23,587.72 189.34,591.08 C190.08,593.32 190.82,601.43 191.56,603.3 C193.05,607.02 194.53,607.42 196.01,609.96 C197.49,612.5 198.97,614.62 200.45,618.84 C201.56,622.01 202.67,629.38 203.78,634.39 C204.74,638.73 205.7,647 206.67,647 C215.7,647 224.73,647 233.76,647 C235.24,647 236.72,640.77 238.2,636.61 C240.05,631.4 241.9,622.63 243.75,616.62 C244.86,613.01 245.97,606.63 247.08,606.63 C248.93,606.63 250.78,607.7 252.63,608.85 C254.48,610 256.33,613.53 258.19,616.62 C259.3,618.48 260.41,621.37 261.52,623.28 C263,625.84 264.48,626.75 265.96,629.94 C267.44,633.14 268.92,641.31 270.4,647" fill="none" stroke="#161616" stroke-width="2.0" stroke-linejoin="round" stroke-linecap="round"/>
<path d="M467.95,460.47 C470.91,459.47 473.87,458.08 476.83,457.49 C479.42,456.97 482.02,456.88 484.61,456.38 C486.46,456.02 488.31,455.59 490.16,454.82 C492.01,454.06 493.86,450.38 495.71,450.38 C498.3,450.38 500.89,452.6 503.48,452.6 C505.33,452.6 507.18,447.5 509.03,447.5 C510.88,447.5 512.74,451.94 514.59,451.94 C517.55,451.94 520.51,435.28 523.47,435.28 C525.32,435.28 527.17,438.61 529.02,438.61 C530.87,438.61 532.72,431.11 534.57,429.73 C536.05,428.62 537.53,428.84 539.01,427.51 C539.75,426.84 540.49,424.75 541.23,421.96 C542.2,418.33 543.16,397.53 544.12,397.53 C545.16,397.53 546.19,400.86 547.23,400.86 C548.19,400.86 549.15,396.42 550.12,396.42 C550.86,396.42 551.6,401.46 552.34,406.41 C553.08,411.36 553.82,426.91 554.56,435.28 C555.3,443.65 556.04,454.55 556.78,457.49 C557.15,458.96 557.52,460.47 557.89,460.47 C568.25,460.47 578.62,460.47 588.98,460.47 C590.46,460.47 591.94,459.04 593.42,458.82 C597.12,458.29 600.82,457.93 604.52,457.93 C608.22,457.93 611.93,457.93 615.63,457.93 C617.48,457.93 619.33,459.62 621.18,460.47" fill="none" stroke="#161616" stroke-width="2.0" stroke-linejoin="round" stroke-linecap="round"/>
<path d="M466.84,553.33 C469.06,552.09 471.28,550.95 473.5,549.6 C475.72,548.25 477.94,546.65 480.17,545.16 C482.02,543.91 483.87,541.38 485.72,541.38 C487.2,541.38 488.68,541.83 490.16,541.83 C492.38,541.83 494.6,534.05 496.82,534.05 C499.41,534.05 502,539.61 504.59,539.61 C506.44,539.61 508.29,535.17 510.14,535.17 C511.62,535.17 513.11,541.12 514.59,541.83 C516.81,542.88 519.03,542.76 521.25,543.6 C522.73,544.16 524.21,545.48 525.69,546.27 C527.54,547.26 529.39,548.93 531.24,548.93 C533.09,548.93 534.94,544.05 536.79,544.05 C538.64,544.05 540.49,547.75 542.34,548.49 C545.31,549.66 548.27,549.49 551.23,550.71 C552.34,551.17 553.45,552.46 554.56,553.33" fill="none" stroke="#161616" stroke-width="2.0" stroke-linejoin="round" stroke-linecap="round"/>
<path d="M586.76,553.33 C588.98,551.35 591.2,549.63 593.42,547.38 C595.64,545.13 597.86,543.52 600.08,539.61 C602.3,535.69 604.52,515.62 606.74,515.62 C608.59,515.62 610.45,517.42 612.3,519.62 C613.78,521.38 615.26,527.83 616.74,532.94 C617.85,536.78 618.96,542.36 620.07,546.27 C620.81,548.87 621.55,550.98 622.29,553.33" fill="none" stroke="#161616" stroke-width="2.0" stroke-linejoin="round" stroke-linecap="round"/>
<path d="M495.71,553.33 C498.67,552.46 501.63,551.72 504.59,550.71 C506.81,549.95 509.03,548.45 511.25,548.05 C513.11,547.71 514.96,547.82 516.81,547.38 C518.29,547.03 519.77,541.56 521.25,537.39 C522.36,534.25 523.47,525.17 524.58,525.17 C526.43,525.17 528.28,531.83 530.13,531.83 C532.35,531.83 534.57,522.95 536.79,522.95 C538.64,522.95 540.49,526.51 542.34,528.5 C544.56,530.89 546.79,533.17 549.01,536.28 C550.12,537.83 551.23,539.33 552.34,541.83 C553.45,544.32 554.56,549.5 555.67,553.33" fill="none" stroke="#cf2b33" stroke-width="2.0" stroke-linejoin="round" stroke-linecap="round"/>
<path d="M584.54,553.33 C586.76,551.72 588.98,550.58 591.2,548.49 C593.42,546.4 595.64,544.35 597.86,539.61 C599.34,536.45 600.82,519.62 602.3,519.62 C604.15,519.62 606,522.95 607.85,522.95 C609.33,522.95 610.82,520.71 612.3,518.51 C613.41,516.86 614.52,509.63 615.63,509.63 C616.74,509.63 617.85,517.69 618.96,524.06 C619.7,528.31 620.44,537.17 621.18,541.83 C621.92,546.48 622.66,549.5 623.4,553.33" fill="none" stroke="#cf2b33" stroke-width="2.0" stroke-linejoin="round" stroke-linecap="round"/>
<path d="M466.84,646.2 C468.69,643.45 470.54,640.55 472.39,637.94 C473.87,635.85 475.35,632.67 476.83,631.94 C478.31,631.21 479.8,631.34 481.28,630.61 C482.76,629.88 484.24,625.55 485.72,624.61 C487.57,623.45 489.42,623.13 491.27,622.39 C493.12,621.65 494.97,621.29 496.82,620.17 C498.3,619.28 499.78,615.29 501.26,615.06 C503.11,614.78 504.96,614.89 506.81,614.62 C507.92,614.46 509.03,612.84 510.14,612.84 C511.99,612.84 513.85,614.18 515.7,614.18 C517.18,614.18 518.66,610.58 520.14,607.96 C521.62,605.34 523.1,597.3 524.58,597.3 C526.06,597.3 527.54,601.3 529.02,601.3 C530.13,601.3 531.24,596.91 532.35,594.63 C533.83,591.6 535.31,585.31 536.79,585.31 C537.9,585.31 539.01,588.48 540.12,591.3 C541.23,594.13 542.34,603.53 543.45,605.74 C544.93,608.69 546.42,608.84 547.9,611.29 C549.01,613.12 550.12,615.61 551.23,619.06 C552.34,622.52 553.45,629.82 554.56,634.61 C555.52,638.75 556.48,646.2 557.44,646.2 C566.48,646.2 575.51,646.2 584.54,646.2 C586.02,646.2 587.5,640.73 588.98,636.83 C590.46,632.93 591.94,625.84 593.42,621.28 C594.9,616.72 596.38,610.61 597.86,609.07 C598.97,607.91 600.08,606.85 601.19,606.85 C602.67,606.85 604.15,607.11 605.63,607.51 C607.11,607.91 608.59,611.48 610.07,613.51 C611.93,616.05 613.78,617.7 615.63,621.28 C617.11,624.15 618.59,629.82 620.07,634.61 C621.18,638.2 622.29,642.34 623.4,646.2" fill="none" stroke="#161616" stroke-width="2.0" stroke-linejoin="round" stroke-linecap="round"/>
<path d="M830.61,462.4 C833.2,461.58 835.8,460.78 838.39,459.93 C840.61,459.21 842.83,458.19 845.05,457.71 C846.9,457.32 848.75,457.29 850.6,456.82 C852.82,456.26 855.04,452.38 857.26,452.38 C859.85,452.38 862.44,455.05 865.03,455.05 C866.88,455.05 868.74,449.5 870.59,449.5 C872.44,449.5 874.29,454.6 876.14,454.6 C879.1,454.6 882.06,437.28 885.02,437.28 C887.24,437.28 889.46,440.61 891.68,440.61 C893.9,440.61 896.12,423.51 898.34,423.51 C899.68,423.51 901.01,426.18 902.34,426.18 C903.23,426.18 904.12,414.68 905.01,408.41 C905.89,402.14 906.78,388.43 907.67,388.43 C908.63,388.43 909.6,395.44 910.56,401.75 C911.08,405.15 911.59,414.65 912.11,417.3 C913.3,423.35 914.48,423.07 915.67,428.4 C916.55,432.4 917.44,442.89 918.33,448.39 C919.22,453.88 920.11,462.4 921,462.4 C930.47,462.4 939.94,462.4 949.42,462.4 C950.9,462.4 952.38,461.01 953.86,460.82 C958.3,460.26 962.74,459.93 967.19,459.93 C971.63,459.93 976.07,459.93 980.51,459.93 C981.25,459.93 981.99,461.58 982.73,462.4" fill="none" stroke="#161616" stroke-width="2.0" stroke-linejoin="round" stroke-linecap="round"/>
<path d="M829.5,555.9 C831.72,554.24 833.94,552.5 836.17,550.93 C838.39,549.37 840.61,547.75 842.83,546.49 C844.31,545.65 845.79,544.27 847.27,544.27 C848.75,544.27 850.23,544.94 851.71,544.94 C853.56,544.94 855.41,535.39 857.26,535.39 C859.85,535.39 862.44,541.61 865.03,541.61 C866.88,541.61 868.74,537.17 870.59,537.17 C872.44,537.17 874.29,544.29 876.14,544.94 C877.99,545.59 879.84,545.49 881.69,546.05 C883.54,546.6 885.39,548.37 887.24,549.38 C888.72,550.18 890.2,551.6 891.68,551.6 C893.9,551.6 896.12,546.05 898.34,546.05 C900.19,546.05 902.05,550.24 903.9,550.93 C906.49,551.91 909.08,551.9 911.67,552.71 C913.89,553.4 916.11,554.84 918.33,555.9" fill="none" stroke="#161616" stroke-width="2.0" stroke-linejoin="round" stroke-linecap="round"/>
<path d="M947.2,555.9 C949.79,553.73 952.38,552.19 954.97,549.38 C957.19,546.97 959.41,544.73 961.63,539.39 C962.74,536.71 963.85,527.09 964.96,523.84 C966.07,520.59 967.19,516.73 968.3,516.73 C970.15,516.73 972,521.28 973.85,523.84 C975.33,525.89 976.81,527.29 978.29,530.5 C979.4,532.92 980.51,538.49 981.62,542.72 C982.73,546.94 983.84,551.51 984.95,555.9" fill="none" stroke="#161616" stroke-width="2.0" stroke-linejoin="round" stroke-linecap="round"/>
<path d="M858.37,555.9 C862.07,554.1 865.77,550.85 869.48,550.49 C872.07,550.24 874.66,550.36 877.25,550.05 C878.73,549.87 880.21,546.79 881.69,543.83 C883.17,540.87 884.65,528.28 886.13,528.28 C887.98,528.28 889.83,536.05 891.68,536.05 C894.27,536.05 896.86,521.62 899.45,521.62 C901.31,521.62 903.16,527.37 905.01,530.5 C906.86,533.64 908.71,537.21 910.56,540.5 C912.04,543.12 913.52,545.7 915,548.27 C916.48,550.84 917.96,553.36 919.44,555.9" fill="none" stroke="#cf2b33" stroke-width="2.0" stroke-linejoin="round" stroke-linecap="round"/>
<path d="M946.09,555.9 C948.68,554.1 951.27,552.98 953.86,550.49 C956.08,548.36 958.3,545.67 960.52,540.5 C962,537.05 963.48,520.51 964.96,520.51 C966.82,520.51 968.67,527.17 970.52,527.17 C972,527.17 973.48,524.59 974.96,521.62 C975.92,519.69 976.88,509.41 977.84,509.41 C978.73,509.41 979.62,519.8 980.51,526.06 C981.25,531.28 981.99,539.04 982.73,543.83 C983.47,548.62 984.21,551.88 984.95,555.9" fill="none" stroke="#cf2b33" stroke-width="2.0" stroke-linejoin="round" stroke-linecap="round"/>
<path d="M827.28,649.4 C829.13,646.99 830.98,644.72 832.83,642.16 C834.68,639.59 836.54,634.43 838.39,633.94 C839.87,633.55 841.35,633.68 842.83,633.28 C844.31,632.87 845.79,627.57 847.27,626.61 C849.12,625.42 850.97,625.13 852.82,624.39 C854.67,623.65 856.52,623.25 858.37,622.17 C859.85,621.31 861.33,618.32 862.81,617.73 C864.29,617.14 865.77,617.05 867.25,616.62 C868.37,616.3 869.48,615.51 870.59,615.51 C872.81,615.51 875.03,616.62 877.25,616.62 C878.36,616.62 879.47,614.9 880.58,613.29 C882.06,611.15 883.54,600.63 885.02,600.63 C886.5,600.63 887.98,604.41 889.46,604.41 C890.94,604.41 892.42,599.46 893.9,596.63 C895.38,593.81 896.86,587.31 898.34,587.31 C899.45,587.31 900.56,590.71 901.68,593.3 C902.79,595.9 903.9,602.07 905.01,604.41 C906.49,607.53 907.97,608.19 909.45,611.07 C910.93,613.94 912.41,618.1 913.89,623.28 C915,627.17 916.11,634.28 917.22,638.83 C918.18,642.77 919.14,649.4 920.11,649.4 C928.4,649.4 936.69,649.4 944.98,649.4 C946.46,649.4 947.94,643.02 949.42,638.83 C950.9,634.63 952.38,627.34 953.86,623.28 C955.34,619.23 956.82,613.65 958.3,613.29 C959.41,613.02 960.52,613.1 961.63,612.85 C963.11,612.5 964.59,607.29 966.07,607.29 C967.56,607.29 969.04,610.18 970.52,612.18 C972,614.18 973.48,618.8 974.96,619.95 C976.44,621.1 977.92,620.69 979.4,622.17 C980.14,622.91 980.88,629.63 981.62,633.28 C982.73,638.74 983.84,644.03 984.95,649.4" fill="none" stroke="#161616" stroke-width="2.0" stroke-linejoin="round" stroke-linecap="round"/>
<path d="M1118.2,421.63 C1139.15,421.63 1160.11,421.63 1181.06,421.63 C1182.54,421.63 1184.02,417.72 1185.5,416.08 C1186.98,414.43 1188.46,412.23 1189.94,411.63 C1191.42,411.04 1192.91,411.12 1194.39,410.52 C1195.87,409.93 1197.35,406.85 1198.83,406.08 C1200.31,405.31 1201.79,405.02 1203.27,404.53 C1205.12,403.91 1206.97,403.46 1208.82,402.75 C1210.67,402.04 1212.52,400.89 1214.37,400.09 C1215.85,399.44 1217.33,398.55 1218.81,398.31 C1220.29,398.07 1221.77,398.09 1223.25,397.87 C1224.74,397.64 1226.22,396.53 1227.7,396.53 C1229.18,396.53 1230.66,397.87 1232.14,397.87 C1233.99,397.87 1235.84,388.68 1237.69,387.21 C1238.8,386.32 1239.91,385.43 1241.02,385.43 C1241.76,385.43 1242.5,388.32 1243.24,388.32 C1244.72,388.32 1246.2,386.43 1247.68,384.99 C1248.79,383.91 1249.9,382.3 1251.01,380.54 C1251.98,379.02 1252.94,374.99 1253.9,374.99 C1254.79,374.99 1255.68,378.21 1256.56,380.54 C1257.31,382.49 1258.05,387.09 1258.79,388.32 C1260.27,390.77 1261.75,390.78 1263.23,392.76 C1264.71,394.73 1266.19,397.76 1267.67,401.64 C1268.78,404.56 1269.89,410.69 1271,413.85 C1272.11,417.02 1273.22,421.63 1274.33,421.63 C1283.21,421.63 1292.1,421.63 1300.98,421.63 C1302.46,421.63 1303.94,418.69 1305.42,416.08 C1306.9,413.46 1308.38,406.02 1309.86,402.75 C1311.34,399.48 1312.82,395.78 1314.3,394.98 C1315.41,394.38 1316.52,394.34 1317.63,393.87 C1319.11,393.24 1320.59,391.2 1322.07,391.2 C1323.19,391.2 1324.3,392.76 1325.41,393.87 C1326.52,394.98 1327.63,397.32 1328.74,398.31 C1329.85,399.3 1330.96,399.64 1332.07,400.53 C1333.18,401.42 1334.29,402.07 1335.4,403.86 C1336.14,405.06 1336.88,409.56 1337.62,411.63 C1339.1,415.79 1340.58,421.63 1342.06,421.63 C1368.57,421.63 1395.09,421.63 1421.6,421.63" fill="none" stroke="#25255e" stroke-width="2.0" stroke-linejoin="round" stroke-linecap="round"/>
<path d="M1118.2,456.49 C1137.3,456.49 1156.41,456.49 1175.51,456.49 C1177.36,456.49 1179.21,452.77 1181.06,451.61 C1182.54,450.67 1184.02,449.97 1185.5,449.39 C1187.35,448.66 1189.2,448.32 1191.05,447.61 C1193.65,446.62 1196.24,445.39 1198.83,443.83 C1200.31,442.94 1201.79,441.28 1203.27,440.5 C1205.12,439.53 1206.97,439.17 1208.82,438.28 C1210.67,437.39 1212.52,435.96 1214.37,434.95 C1216.59,433.74 1218.81,432.18 1221.03,431.62 C1223.25,431.07 1225.48,431.14 1227.7,430.51 C1229.18,430.09 1230.66,428.66 1232.14,427.18 C1233.62,425.7 1235.1,420.52 1236.58,420.52 C1238.06,420.52 1239.54,422.74 1241.02,422.74 C1242.13,422.74 1243.24,420.02 1244.35,418.3 C1245.61,416.34 1246.87,411.19 1248.13,411.19 C1249.09,411.19 1250.05,414.01 1251.01,416.08 C1252.12,418.46 1253.23,424.7 1254.34,426.07 C1255.82,427.9 1257.31,428.01 1258.79,429.4 C1260.27,430.79 1261.75,431.86 1263.23,434.95 C1263.97,436.5 1264.71,442.02 1265.45,444.94 C1266.56,449.33 1267.67,456.49 1268.78,456.49 C1277.66,456.49 1286.54,456.49 1295.43,456.49 C1296.91,456.49 1298.39,453.91 1299.87,451.61 C1301.72,448.73 1303.57,440.01 1305.42,436.06 C1306.9,432.9 1308.38,429.69 1309.86,428.29 C1310.97,427.24 1312.08,426.07 1313.19,426.07 C1314.67,426.07 1316.15,427.39 1317.63,428.29 C1319.48,429.42 1321.33,430.95 1323.19,432.73 C1325.04,434.51 1326.89,436.38 1328.74,439.39 C1329.85,441.2 1330.96,444.7 1332.07,447.17 C1333.55,450.45 1335.03,456.49 1336.51,456.49 C1364.87,456.49 1393.24,456.49 1421.6,456.49" fill="none" stroke="#45451c" stroke-width="2.0" stroke-linejoin="round" stroke-linecap="round"/>
<path d="M1118.2,491.74 C1137.3,491.74 1156.41,491.74 1175.51,491.74 C1177.36,491.74 1179.21,488.22 1181.06,486.63 C1182.91,485.05 1184.76,483.3 1186.61,482.19 C1188.46,481.08 1190.31,480.7 1192.17,479.53 C1193.65,478.59 1195.13,476.11 1196.61,475.53 C1198.09,474.95 1199.57,474.91 1201.05,474.42 C1202.53,473.93 1204.01,472.86 1205.49,472.2 C1207.34,471.37 1209.19,470.81 1211.04,469.98 C1212.52,469.32 1214,468.05 1215.48,467.76 C1217.33,467.39 1219.18,467.43 1221.03,467.09 C1222.51,466.82 1223.99,465.97 1225.48,465.54 C1226.96,465.11 1228.44,465.04 1229.92,464.43 C1231.03,463.97 1232.14,462.42 1233.25,461.1 C1234.73,459.34 1236.21,454.43 1237.69,454.43 C1238.8,454.43 1239.91,457.77 1241.02,457.77 C1242.13,457.77 1243.24,455.1 1244.35,453.32 C1245.46,451.55 1246.57,448.11 1247.68,446.66 C1248.42,445.7 1249.16,444.44 1249.9,444.44 C1251.01,444.44 1252.12,449.62 1253.23,452.21 C1254.34,454.8 1255.45,458.1 1256.56,459.99 C1257.68,461.87 1258.79,462.65 1259.9,464.43 C1261.01,466.2 1262.12,468.31 1263.23,471.09 C1264.34,473.87 1265.45,478.77 1266.56,482.19 C1267.67,485.62 1268.78,491.74 1269.89,491.74 C1279.51,491.74 1289.13,491.74 1298.76,491.74 C1300.24,491.74 1301.72,483.86 1303.2,479.97 C1305.05,475.11 1306.9,468.17 1308.75,465.54 C1310.23,463.43 1311.71,461.1 1313.19,461.1 C1315.04,461.1 1316.89,462.82 1318.74,464.43 C1320.22,465.72 1321.7,469.11 1323.19,471.09 C1325.04,473.57 1326.89,475.13 1328.74,477.75 C1329.85,479.32 1330.96,481.34 1332.07,483.3 C1333.55,485.92 1335.03,491.74 1336.51,491.74 C1364.87,491.74 1393.24,491.74 1421.6,491.74" fill="none" stroke="#dd22dd" stroke-width="2.0" stroke-linejoin="round" stroke-linecap="round"/>
<path d="M1118.2,526.61 C1141.74,526.61 1165.29,526.61 1188.83,526.61 C1190.31,526.61 1191.8,522.91 1193.28,521.05 C1194.76,519.2 1196.24,516.56 1197.72,515.5 C1199.2,514.45 1200.68,514.01 1202.16,513.28 C1204.01,512.38 1205.86,511.52 1207.71,510.62 C1209.19,509.89 1210.67,509.05 1212.15,508.4 C1213.63,507.74 1215.11,507.08 1216.59,506.62 C1218.07,506.16 1219.55,506 1221.03,505.51 C1222.51,505.02 1223.99,504.13 1225.48,503.29 C1226.96,502.45 1228.44,500.66 1229.92,500.4 C1231.4,500.15 1232.88,500.2 1234.36,499.96 C1236.21,499.66 1238.06,498.32 1239.91,497.29 C1241.39,496.47 1242.87,494.41 1244.35,494.41 C1245.83,494.41 1247.31,495.52 1248.79,495.52 C1250.64,495.52 1252.49,489.73 1254.34,486.63 C1255.82,484.16 1257.31,478.86 1258.79,478.86 C1260.27,478.86 1261.75,481.13 1263.23,483.3 C1264.71,485.47 1266.19,491.27 1267.67,495.52 C1269.15,499.77 1270.63,504.4 1272.11,508.84 C1273.59,513.28 1275.07,520.12 1276.55,522.17 C1278.03,524.22 1279.51,525.97 1280.99,526.16 C1283.21,526.45 1285.43,526.61 1287.65,526.61 C1289.13,526.61 1290.62,525.49 1292.1,524.83 C1293.58,524.17 1295.06,522.61 1296.54,522.61 C1298.02,522.61 1299.5,523.46 1300.98,523.94 C1302.46,524.42 1303.94,525.5 1305.42,525.5 C1306.9,525.5 1308.38,519.18 1309.86,516.61 C1312.08,512.77 1314.3,508.5 1316.52,506.62 C1318.37,505.05 1320.22,503.29 1322.07,503.29 C1323.56,503.29 1325.04,505.07 1326.52,506.62 C1328,508.17 1329.48,511.8 1330.96,514.39 C1332.44,516.98 1333.92,520.28 1335.4,522.17 C1336.88,524.05 1338.36,526.61 1339.84,526.61 C1367.09,526.61 1394.35,526.61 1421.6,526.61" fill="none" stroke="#2e3f38" stroke-width="2.0" stroke-linejoin="round" stroke-linecap="round"/>
<path d="M1118.2,561.19 C1137.3,561.19 1156.41,561.19 1175.51,561.19 C1177.36,561.19 1179.21,557.67 1181.06,556.08 C1182.91,554.5 1184.76,552.77 1186.61,551.64 C1188.09,550.74 1189.57,550.41 1191.05,549.42 C1192.54,548.43 1194.02,545.64 1195.5,544.98 C1197.35,544.15 1199.2,544.04 1201.05,543.42 C1202.53,542.93 1204.01,542.24 1205.49,541.65 C1207.34,540.91 1209.19,540.25 1211.04,539.43 C1212.52,538.77 1214,537.64 1215.48,537.21 C1217.33,536.67 1219.18,536.63 1221.03,536.1 C1222.51,535.67 1223.99,534.85 1225.48,533.88 C1227.33,532.66 1229.18,530.17 1231.03,528.32 C1232.14,527.21 1233.25,524.99 1234.36,524.99 C1235.47,524.99 1236.58,526.55 1237.69,526.55 C1238.8,526.55 1239.91,524.99 1241.02,523.88 C1242.13,522.77 1243.24,520.84 1244.35,519.44 C1245.46,518.04 1246.57,515.44 1247.68,515.44 C1249.16,515.44 1250.64,521.65 1252.12,523.88 C1253.6,526.12 1255.08,527.28 1256.56,529.43 C1258.05,531.59 1259.53,533.76 1261.01,537.21 C1262.12,539.79 1263.23,544.57 1264.34,548.31 C1265.6,552.55 1266.85,561.19 1268.11,561.19 C1276.85,561.19 1285.58,561.19 1294.32,561.19 C1296.17,561.19 1298.02,558.04 1299.87,554.97 C1301.35,552.52 1302.83,545.82 1304.31,541.65 C1305.42,538.52 1306.53,534.77 1307.64,532.77 C1308.6,531.02 1309.57,528.77 1310.53,528.77 C1311.79,528.77 1313.04,532.42 1314.3,533.88 C1315.78,535.59 1317.26,536.67 1318.74,538.32 C1320.22,539.96 1321.7,541.3 1323.19,543.87 C1324.3,545.79 1325.41,549.87 1326.52,552.75 C1327.63,555.64 1328.74,561.19 1329.85,561.19 C1360.43,561.19 1391.02,561.19 1421.6,561.19" fill="none" stroke="#2a2ae0" stroke-width="2.0" stroke-linejoin="round" stroke-linecap="round"/>
<path d="M1118.2,596.72 C1137.3,596.72 1156.41,596.72 1175.51,596.72 C1177.36,596.72 1179.21,593.95 1181.06,592.28 C1182.91,590.61 1184.76,588.03 1186.61,586.51 C1188.46,584.98 1190.31,583.79 1192.17,582.73 C1193.65,581.88 1195.13,581.25 1196.61,580.51 C1198.09,579.77 1199.57,578.9 1201.05,578.29 C1202.53,577.68 1204.01,577.29 1205.49,576.73 C1207.34,576.05 1209.19,575.25 1211.04,574.51 C1212.52,573.92 1214,573.14 1215.48,572.74 C1217.33,572.24 1219.18,571.63 1221.03,571.63 C1222.51,571.63 1223.99,572.29 1225.48,572.29 C1226.96,572.29 1228.44,569.85 1229.92,568.3 C1231.4,566.75 1232.88,563.5 1234.36,562.74 C1235.47,562.18 1236.58,562.19 1237.69,561.63 C1238.8,561.08 1239.91,559.57 1241.02,558.3 C1242.13,557.03 1243.24,555.13 1244.35,553.86 C1245.46,552.59 1246.57,550.53 1247.68,550.53 C1249.16,550.53 1250.64,553.09 1252.12,554.97 C1253.6,556.86 1255.08,559.7 1256.56,562.74 C1258.05,565.79 1259.53,569.97 1261.01,573.85 C1262.49,577.73 1263.97,581.8 1265.45,586.06 C1266.56,589.25 1267.67,595.06 1268.78,596.05 C1269.15,596.39 1269.52,596.72 1269.89,596.72 C1276.92,596.72 1283.95,596.72 1290.99,596.72 C1292.84,596.72 1294.69,594.55 1296.54,592.72 C1298.02,591.26 1299.5,588.84 1300.98,586.06 C1302.46,583.29 1303.94,577.43 1305.42,574.96 C1306.9,572.49 1308.38,569.41 1309.86,569.41 C1311.34,569.41 1312.82,570.89 1314.3,571.63 C1315.78,572.37 1317.26,572.63 1318.74,573.85 C1319.85,574.76 1320.96,578.12 1322.07,580.51 C1323.19,582.9 1324.3,585.95 1325.41,588.28 C1326.89,591.4 1328.37,596.72 1329.85,596.72 C1360.43,596.72 1391.02,596.72 1421.6,596.72" fill="none" stroke="#d02828" stroke-width="2.0" stroke-linejoin="round" stroke-linecap="round"/>
<path d="M1207.71,649 C1209.19,647.09 1210.67,645.16 1212.15,643.28 C1213.63,641.4 1215.11,638.72 1216.59,637.73 C1217.7,636.99 1218.81,636.18 1219.92,636.18 C1221.03,636.18 1222.14,636.62 1223.25,636.62 C1224.74,636.62 1226.22,633.45 1227.7,632.62 C1229.55,631.58 1231.4,631.01 1233.25,630.4 C1235.1,629.79 1236.95,629.52 1238.8,628.85 C1240.28,628.31 1241.76,627.21 1243.24,626.63 C1244.35,626.19 1245.46,625.92 1246.57,625.52 C1248.05,624.98 1249.53,624.03 1251.01,623.74 C1252.12,623.52 1253.23,623.3 1254.34,623.3 C1255.45,623.3 1256.56,625.07 1257.68,625.07 C1258.79,625.07 1259.9,620.94 1261.01,618.85 C1262.26,616.5 1263.52,611.75 1264.78,611.75 C1265.74,611.75 1266.71,614.84 1267.67,615.52 C1268.41,616.05 1269.15,616.63 1269.89,616.63 C1271.37,616.63 1272.85,609.85 1274.33,607.75 C1275.81,605.65 1277.29,602.87 1278.77,602.87 C1279.88,602.87 1280.99,604.88 1282.1,606.64 C1283.21,608.41 1284.32,614.34 1285.43,615.52 C1286.54,616.71 1287.65,616.53 1288.76,617.74 C1289.5,618.56 1290.25,621.2 1290.99,623.3 C1292.1,626.44 1293.21,631.11 1294.32,634.4 C1295.43,637.69 1296.54,640.96 1297.65,643.28 C1298.76,645.6 1299.87,647.09 1300.98,649" fill="none" stroke="#161616" stroke-width="2.0" stroke-linejoin="round" stroke-linecap="round"/>
<path d="M1326.52,649 C1327.63,646.35 1328.74,643.86 1329.85,641.06 C1330.96,638.27 1332.07,634.73 1333.18,632.18 C1334.66,628.77 1336.14,624.28 1337.62,623.3 C1339.1,622.31 1340.58,622.27 1342.06,621.52 C1343.54,620.77 1345.02,618.41 1346.5,618.41 C1347.98,618.41 1349.46,619.71 1350.94,620.63 C1352.05,621.32 1353.16,622.3 1354.27,623.3 C1355.02,623.96 1355.76,625.52 1356.5,625.52 C1357.61,625.52 1358.72,624.63 1359.83,624.63 C1360.94,624.63 1362.05,627.17 1363.16,629.96 C1363.9,631.82 1364.64,637.98 1365.38,641.06 C1366.12,644.15 1366.86,646.35 1367.6,649" fill="none" stroke="#161616" stroke-width="2.0" stroke-linejoin="round" stroke-linecap="round"/>
</svg>
</body></html>
